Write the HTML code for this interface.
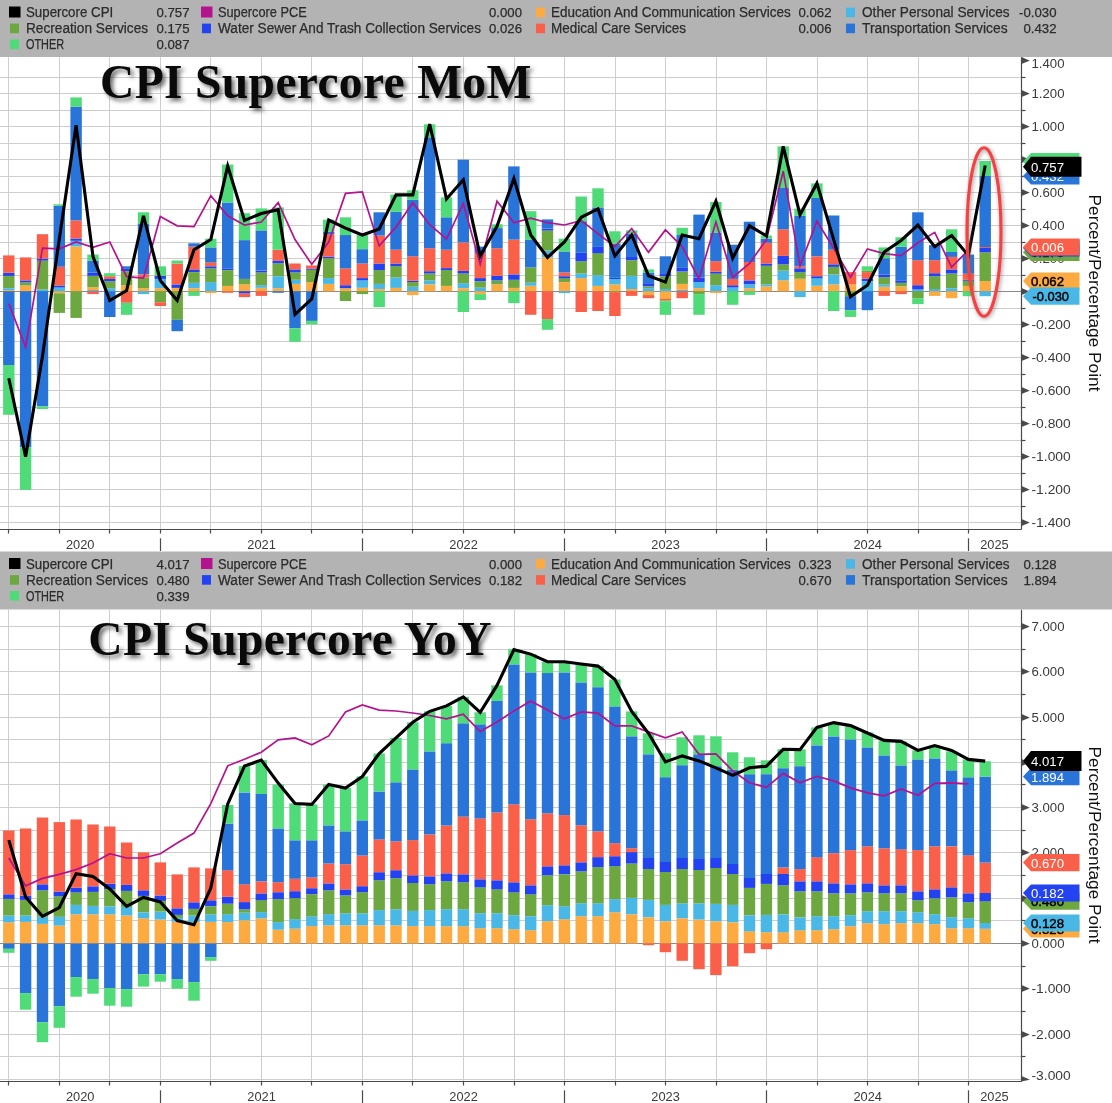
<!DOCTYPE html>
<html><head><meta charset="utf-8"><title>CPI Supercore</title>
<style>
html,body{margin:0;padding:0;background:#fff}
body{width:1112px;height:1103px;position:relative;overflow:hidden;font-family:"Liberation Sans",sans-serif}
svg text{font-family:"Liberation Sans",sans-serif}
.ax{font-size:13.6px;fill:#3A3A3A}
.tg{font-size:13.6px}
.lg{font-size:14px;fill:#2C2C2C;stroke:#2C2C2C;stroke-width:.25px}
.lv{font-size:13.2px;fill:#2C2C2C;stroke:#2C2C2C;stroke-width:.25px}
.yl{font-size:17.3px;fill:#111}
.title{position:absolute;font-family:"Liberation Serif",serif;font-weight:bold;font-size:47.5px;line-height:1;color:#0a0a0a;white-space:nowrap;letter-spacing:.35px;text-shadow:3px 3px 4px rgba(60,60,60,.75);transform-origin:0 0}
</style></head><body>
<svg width="1112" height="1103" viewBox="0 0 1112 1103" style="position:absolute;left:0;top:0">
<rect width="1112" height="1103" fill="#fff"/>
<g>
<line x1="0" y1="522.5" x2="1021.5" y2="522.5" stroke="#CDCDCD" stroke-width="1"/>
<line x1="0" y1="506.5" x2="1021.5" y2="506.5" stroke="#CDCDCD" stroke-width="1"/>
<line x1="0" y1="489.5" x2="1021.5" y2="489.5" stroke="#CDCDCD" stroke-width="1"/>
<line x1="0" y1="473.5" x2="1021.5" y2="473.5" stroke="#CDCDCD" stroke-width="1"/>
<line x1="0" y1="456.5" x2="1021.5" y2="456.5" stroke="#CDCDCD" stroke-width="1"/>
<line x1="0" y1="440.5" x2="1021.5" y2="440.5" stroke="#CDCDCD" stroke-width="1"/>
<line x1="0" y1="423.5" x2="1021.5" y2="423.5" stroke="#CDCDCD" stroke-width="1"/>
<line x1="0" y1="407.5" x2="1021.5" y2="407.5" stroke="#CDCDCD" stroke-width="1"/>
<line x1="0" y1="390.5" x2="1021.5" y2="390.5" stroke="#CDCDCD" stroke-width="1"/>
<line x1="0" y1="374.5" x2="1021.5" y2="374.5" stroke="#CDCDCD" stroke-width="1"/>
<line x1="0" y1="357.5" x2="1021.5" y2="357.5" stroke="#CDCDCD" stroke-width="1"/>
<line x1="0" y1="341.5" x2="1021.5" y2="341.5" stroke="#CDCDCD" stroke-width="1"/>
<line x1="0" y1="324.5" x2="1021.5" y2="324.5" stroke="#CDCDCD" stroke-width="1"/>
<line x1="0" y1="308.5" x2="1021.5" y2="308.5" stroke="#CDCDCD" stroke-width="1"/>
<line x1="0" y1="275.5" x2="1021.5" y2="275.5" stroke="#CDCDCD" stroke-width="1"/>
<line x1="0" y1="258.5" x2="1021.5" y2="258.5" stroke="#CDCDCD" stroke-width="1"/>
<line x1="0" y1="242.5" x2="1021.5" y2="242.5" stroke="#CDCDCD" stroke-width="1"/>
<line x1="0" y1="225.5" x2="1021.5" y2="225.5" stroke="#CDCDCD" stroke-width="1"/>
<line x1="0" y1="209.5" x2="1021.5" y2="209.5" stroke="#CDCDCD" stroke-width="1"/>
<line x1="0" y1="192.5" x2="1021.5" y2="192.5" stroke="#CDCDCD" stroke-width="1"/>
<line x1="0" y1="176.5" x2="1021.5" y2="176.5" stroke="#CDCDCD" stroke-width="1"/>
<line x1="0" y1="159.5" x2="1021.5" y2="159.5" stroke="#CDCDCD" stroke-width="1"/>
<line x1="0" y1="143.5" x2="1021.5" y2="143.5" stroke="#CDCDCD" stroke-width="1"/>
<line x1="0" y1="126.5" x2="1021.5" y2="126.5" stroke="#CDCDCD" stroke-width="1"/>
<line x1="0" y1="110.5" x2="1021.5" y2="110.5" stroke="#CDCDCD" stroke-width="1"/>
<line x1="0" y1="93.5" x2="1021.5" y2="93.5" stroke="#CDCDCD" stroke-width="1"/>
<line x1="0" y1="77.5" x2="1021.5" y2="77.5" stroke="#CDCDCD" stroke-width="1"/>
<line x1="8.5" y1="57.3" x2="8.5" y2="529" stroke="#CDCDCD" stroke-width="1"/>
<line x1="59.5" y1="57.3" x2="59.5" y2="529" stroke="#CDCDCD" stroke-width="1"/>
<line x1="109.5" y1="57.3" x2="109.5" y2="529" stroke="#CDCDCD" stroke-width="1"/>
<line x1="160.5" y1="57.3" x2="160.5" y2="529" stroke="#CDCDCD" stroke-width="1"/>
<line x1="210.5" y1="57.3" x2="210.5" y2="529" stroke="#CDCDCD" stroke-width="1"/>
<line x1="261.5" y1="57.3" x2="261.5" y2="529" stroke="#CDCDCD" stroke-width="1"/>
<line x1="311.5" y1="57.3" x2="311.5" y2="529" stroke="#CDCDCD" stroke-width="1"/>
<line x1="362.5" y1="57.3" x2="362.5" y2="529" stroke="#CDCDCD" stroke-width="1"/>
<line x1="412.5" y1="57.3" x2="412.5" y2="529" stroke="#CDCDCD" stroke-width="1"/>
<line x1="463.5" y1="57.3" x2="463.5" y2="529" stroke="#CDCDCD" stroke-width="1"/>
<line x1="514.5" y1="57.3" x2="514.5" y2="529" stroke="#CDCDCD" stroke-width="1"/>
<line x1="564.5" y1="57.3" x2="564.5" y2="529" stroke="#CDCDCD" stroke-width="1"/>
<line x1="615.5" y1="57.3" x2="615.5" y2="529" stroke="#CDCDCD" stroke-width="1"/>
<line x1="665.5" y1="57.3" x2="665.5" y2="529" stroke="#CDCDCD" stroke-width="1"/>
<line x1="716.5" y1="57.3" x2="716.5" y2="529" stroke="#CDCDCD" stroke-width="1"/>
<line x1="766.5" y1="57.3" x2="766.5" y2="529" stroke="#CDCDCD" stroke-width="1"/>
<line x1="817.5" y1="57.3" x2="817.5" y2="529" stroke="#CDCDCD" stroke-width="1"/>
<line x1="867.5" y1="57.3" x2="867.5" y2="529" stroke="#CDCDCD" stroke-width="1"/>
<line x1="918.5" y1="57.3" x2="918.5" y2="529" stroke="#CDCDCD" stroke-width="1"/>
<line x1="968.5" y1="57.3" x2="968.5" y2="529" stroke="#CDCDCD" stroke-width="1"/>
<line x1="0" y1="291.5" x2="1021.5" y2="291.5" stroke="#8A8A8A" stroke-width="1.2"/>
<rect x="3.1" y="290.0" width="11.4" height="1.3" fill="#FDAA40"/>
<rect x="3.1" y="288.2" width="11.4" height="1.8" fill="#4AB8E6"/>
<rect x="3.1" y="275.8" width="11.4" height="12.3" fill="#6CA83F"/>
<rect x="3.1" y="272.9" width="11.4" height="3.0" fill="#2342F2"/>
<rect x="3.1" y="255.4" width="11.4" height="17.4" fill="#FA6049"/>
<rect x="3.1" y="291.3" width="11.4" height="73.7" fill="#2874D9"/>
<rect x="3.1" y="365.0" width="11.4" height="49.8" fill="#4EDB78"/>
<rect x="19.9" y="285.5" width="11.4" height="5.8" fill="#FDAA40"/>
<rect x="19.9" y="282.4" width="11.4" height="3.1" fill="#6CA83F"/>
<rect x="19.9" y="280.4" width="11.4" height="2.0" fill="#2342F2"/>
<rect x="19.9" y="257.4" width="11.4" height="23.0" fill="#FA6049"/>
<rect x="19.9" y="291.3" width="11.4" height="155.8" fill="#2874D9"/>
<rect x="19.9" y="447.1" width="11.4" height="42.8" fill="#4EDB78"/>
<rect x="36.8" y="289.5" width="11.4" height="1.8" fill="#4AB8E6"/>
<rect x="36.8" y="260.5" width="11.4" height="29.0" fill="#6CA83F"/>
<rect x="36.8" y="258.6" width="11.4" height="2.0" fill="#2342F2"/>
<rect x="36.8" y="234.2" width="11.4" height="24.3" fill="#FA6049"/>
<rect x="36.8" y="291.3" width="11.4" height="115.1" fill="#2874D9"/>
<rect x="36.8" y="406.4" width="11.4" height="2.6" fill="#4EDB78"/>
<rect x="53.6" y="287.5" width="11.4" height="3.8" fill="#4AB8E6"/>
<rect x="53.6" y="285.5" width="11.4" height="2.0" fill="#2342F2"/>
<rect x="53.6" y="266.6" width="11.4" height="18.9" fill="#FA6049"/>
<rect x="53.6" y="205.8" width="11.4" height="60.9" fill="#2874D9"/>
<rect x="53.6" y="204.3" width="11.4" height="1.5" fill="#4EDB78"/>
<rect x="53.6" y="291.3" width="11.4" height="2.0" fill="#FDAA40"/>
<rect x="53.6" y="293.3" width="11.4" height="19.6" fill="#6CA83F"/>
<rect x="70.4" y="246.4" width="11.4" height="44.9" fill="#FDAA40"/>
<rect x="70.4" y="240.8" width="11.4" height="5.6" fill="#4AB8E6"/>
<rect x="70.4" y="238.5" width="11.4" height="2.3" fill="#2342F2"/>
<rect x="70.4" y="220.4" width="11.4" height="18.1" fill="#FA6049"/>
<rect x="70.4" y="106.6" width="11.4" height="113.8" fill="#2874D9"/>
<rect x="70.4" y="97.4" width="11.4" height="9.2" fill="#4EDB78"/>
<rect x="70.4" y="291.3" width="11.4" height="26.6" fill="#6CA83F"/>
<rect x="87.3" y="290.0" width="11.4" height="1.3" fill="#4AB8E6"/>
<rect x="87.3" y="287.2" width="11.4" height="2.8" fill="#FDAA40"/>
<rect x="87.3" y="275.8" width="11.4" height="11.4" fill="#6CA83F"/>
<rect x="87.3" y="272.5" width="11.4" height="3.3" fill="#2342F2"/>
<rect x="87.3" y="260.5" width="11.4" height="12.0" fill="#2874D9"/>
<rect x="87.3" y="254.6" width="11.4" height="5.9" fill="#4EDB78"/>
<rect x="87.3" y="291.3" width="11.4" height="2.8" fill="#FA6049"/>
<rect x="104.1" y="288.2" width="11.4" height="3.1" fill="#4AB8E6"/>
<rect x="104.1" y="281.3" width="11.4" height="6.9" fill="#6CA83F"/>
<rect x="104.1" y="279.0" width="11.4" height="2.3" fill="#2342F2"/>
<rect x="104.1" y="276.2" width="11.4" height="2.8" fill="#FA6049"/>
<rect x="104.1" y="273.2" width="11.4" height="3.0" fill="#4EDB78"/>
<rect x="104.1" y="291.3" width="11.4" height="25.7" fill="#2874D9"/>
<rect x="120.9" y="285.2" width="11.4" height="6.1" fill="#FDAA40"/>
<rect x="120.9" y="271.2" width="11.4" height="14.0" fill="#6CA83F"/>
<rect x="120.9" y="268.9" width="11.4" height="2.3" fill="#2342F2"/>
<rect x="120.9" y="266.3" width="11.4" height="2.6" fill="#2874D9"/>
<rect x="120.9" y="291.3" width="11.4" height="11.5" fill="#FA6049"/>
<rect x="120.9" y="302.8" width="11.4" height="12.0" fill="#4EDB78"/>
<rect x="137.8" y="288.2" width="11.4" height="3.1" fill="#FDAA40"/>
<rect x="137.8" y="277.5" width="11.4" height="10.7" fill="#6CA83F"/>
<rect x="137.8" y="274.4" width="11.4" height="3.1" fill="#FA6049"/>
<rect x="137.8" y="223.5" width="11.4" height="50.8" fill="#2874D9"/>
<rect x="137.8" y="212.3" width="11.4" height="11.2" fill="#4EDB78"/>
<rect x="137.8" y="291.3" width="11.4" height="2.8" fill="#4AB8E6"/>
<rect x="154.6" y="288.2" width="11.4" height="3.1" fill="#FDAA40"/>
<rect x="154.6" y="279.0" width="11.4" height="9.2" fill="#4AB8E6"/>
<rect x="154.6" y="275.8" width="11.4" height="3.1" fill="#2342F2"/>
<rect x="154.6" y="266.3" width="11.4" height="9.5" fill="#4EDB78"/>
<rect x="154.6" y="291.3" width="11.4" height="10.9" fill="#6CA83F"/>
<rect x="154.6" y="302.2" width="11.4" height="3.8" fill="#FA6049"/>
<rect x="171.5" y="287.8" width="11.4" height="3.5" fill="#FDAA40"/>
<rect x="171.5" y="284.4" width="11.4" height="3.5" fill="#2342F2"/>
<rect x="171.5" y="263.5" width="11.4" height="20.9" fill="#FA6049"/>
<rect x="171.5" y="260.5" width="11.4" height="3.0" fill="#4EDB78"/>
<rect x="171.5" y="291.3" width="11.4" height="28.5" fill="#6CA83F"/>
<rect x="171.5" y="319.8" width="11.4" height="11.4" fill="#2874D9"/>
<rect x="188.3" y="288.2" width="11.4" height="3.1" fill="#FDAA40"/>
<rect x="188.3" y="282.7" width="11.4" height="5.4" fill="#4AB8E6"/>
<rect x="188.3" y="272.1" width="11.4" height="10.7" fill="#6CA83F"/>
<rect x="188.3" y="269.4" width="11.4" height="2.6" fill="#2342F2"/>
<rect x="188.3" y="246.6" width="11.4" height="22.9" fill="#FA6049"/>
<rect x="188.3" y="243.3" width="11.4" height="3.3" fill="#2874D9"/>
<rect x="188.3" y="291.3" width="11.4" height="4.6" fill="#4EDB78"/>
<rect x="205.1" y="282.1" width="11.4" height="9.2" fill="#4AB8E6"/>
<rect x="205.1" y="268.3" width="11.4" height="13.8" fill="#6CA83F"/>
<rect x="205.1" y="266.3" width="11.4" height="2.0" fill="#2342F2"/>
<rect x="205.1" y="262.3" width="11.4" height="3.9" fill="#FA6049"/>
<rect x="205.1" y="247.4" width="11.4" height="15.0" fill="#2874D9"/>
<rect x="205.1" y="238.7" width="11.4" height="8.7" fill="#4EDB78"/>
<rect x="205.1" y="291.3" width="11.4" height="1.8" fill="#FDAA40"/>
<rect x="222.0" y="285.9" width="11.4" height="5.4" fill="#FDAA40"/>
<rect x="222.0" y="270.1" width="11.4" height="15.8" fill="#6CA83F"/>
<rect x="222.0" y="268.4" width="11.4" height="1.6" fill="#2342F2"/>
<rect x="222.0" y="202.5" width="11.4" height="66.0" fill="#2874D9"/>
<rect x="222.0" y="164.6" width="11.4" height="37.8" fill="#4EDB78"/>
<rect x="222.0" y="291.3" width="11.4" height="1.5" fill="#FA6049"/>
<rect x="238.8" y="284.4" width="11.4" height="6.9" fill="#FDAA40"/>
<rect x="238.8" y="279.0" width="11.4" height="5.4" fill="#6CA83F"/>
<rect x="238.8" y="240.1" width="11.4" height="38.8" fill="#2874D9"/>
<rect x="238.8" y="213.2" width="11.4" height="27.0" fill="#4EDB78"/>
<rect x="238.8" y="291.3" width="11.4" height="2.3" fill="#2342F2"/>
<rect x="238.8" y="293.6" width="11.4" height="3.5" fill="#FA6049"/>
<rect x="255.6" y="287.8" width="11.4" height="3.5" fill="#FDAA40"/>
<rect x="255.6" y="285.2" width="11.4" height="2.6" fill="#4AB8E6"/>
<rect x="255.6" y="272.4" width="11.4" height="12.8" fill="#6CA83F"/>
<rect x="255.6" y="270.6" width="11.4" height="1.8" fill="#2342F2"/>
<rect x="255.6" y="230.4" width="11.4" height="40.1" fill="#2874D9"/>
<rect x="255.6" y="208.4" width="11.4" height="22.0" fill="#4EDB78"/>
<rect x="255.6" y="291.3" width="11.4" height="4.6" fill="#FA6049"/>
<rect x="272.5" y="288.2" width="11.4" height="3.1" fill="#FDAA40"/>
<rect x="272.5" y="276.2" width="11.4" height="12.0" fill="#4AB8E6"/>
<rect x="272.5" y="263.3" width="11.4" height="12.8" fill="#6CA83F"/>
<rect x="272.5" y="260.5" width="11.4" height="2.8" fill="#2342F2"/>
<rect x="272.5" y="249.7" width="11.4" height="10.9" fill="#FA6049"/>
<rect x="272.5" y="207.4" width="11.4" height="42.3" fill="#4EDB78"/>
<rect x="272.5" y="291.3" width="11.4" height="1.5" fill="#2874D9"/>
<rect x="289.3" y="283.9" width="11.4" height="7.4" fill="#FDAA40"/>
<rect x="289.3" y="279.8" width="11.4" height="4.1" fill="#4AB8E6"/>
<rect x="289.3" y="272.4" width="11.4" height="7.4" fill="#6CA83F"/>
<rect x="289.3" y="269.4" width="11.4" height="3.0" fill="#2342F2"/>
<rect x="289.3" y="263.5" width="11.4" height="5.9" fill="#FA6049"/>
<rect x="289.3" y="291.3" width="11.4" height="37.0" fill="#2874D9"/>
<rect x="289.3" y="328.3" width="11.4" height="13.5" fill="#4EDB78"/>
<rect x="306.1" y="282.1" width="11.4" height="9.2" fill="#FDAA40"/>
<rect x="306.1" y="269.8" width="11.4" height="12.3" fill="#6CA83F"/>
<rect x="306.1" y="268.6" width="11.4" height="1.2" fill="#2342F2"/>
<rect x="306.1" y="265.5" width="11.4" height="3.1" fill="#FA6049"/>
<rect x="306.1" y="291.3" width="11.4" height="29.6" fill="#2874D9"/>
<rect x="306.1" y="320.9" width="11.4" height="3.5" fill="#4EDB78"/>
<rect x="323.0" y="283.9" width="11.4" height="7.4" fill="#FDAA40"/>
<rect x="323.0" y="278.1" width="11.4" height="5.8" fill="#4AB8E6"/>
<rect x="323.0" y="258.2" width="11.4" height="19.9" fill="#6CA83F"/>
<rect x="323.0" y="256.6" width="11.4" height="1.6" fill="#2342F2"/>
<rect x="323.0" y="234.2" width="11.4" height="22.4" fill="#FA6049"/>
<rect x="323.0" y="231.9" width="11.4" height="2.3" fill="#2874D9"/>
<rect x="323.0" y="219.6" width="11.4" height="12.3" fill="#4EDB78"/>
<rect x="339.8" y="288.2" width="11.4" height="3.1" fill="#FDAA40"/>
<rect x="339.8" y="285.2" width="11.4" height="3.0" fill="#2342F2"/>
<rect x="339.8" y="268.4" width="11.4" height="16.8" fill="#FA6049"/>
<rect x="339.8" y="235.0" width="11.4" height="33.4" fill="#2874D9"/>
<rect x="339.8" y="217.3" width="11.4" height="17.8" fill="#4EDB78"/>
<rect x="339.8" y="291.3" width="11.4" height="9.7" fill="#6CA83F"/>
<rect x="356.6" y="287.8" width="11.4" height="3.5" fill="#FDAA40"/>
<rect x="356.6" y="280.4" width="11.4" height="7.4" fill="#4AB8E6"/>
<rect x="356.6" y="278.1" width="11.4" height="2.3" fill="#2342F2"/>
<rect x="356.6" y="263.5" width="11.4" height="14.6" fill="#FA6049"/>
<rect x="356.6" y="249.2" width="11.4" height="14.3" fill="#2874D9"/>
<rect x="356.6" y="235.0" width="11.4" height="14.1" fill="#4EDB78"/>
<rect x="356.6" y="291.3" width="11.4" height="2.8" fill="#6CA83F"/>
<rect x="373.5" y="289.0" width="11.4" height="2.3" fill="#FDAA40"/>
<rect x="373.5" y="283.9" width="11.4" height="5.1" fill="#4AB8E6"/>
<rect x="373.5" y="270.1" width="11.4" height="13.8" fill="#6CA83F"/>
<rect x="373.5" y="263.5" width="11.4" height="6.6" fill="#2342F2"/>
<rect x="373.5" y="235.5" width="11.4" height="28.0" fill="#FA6049"/>
<rect x="373.5" y="212.3" width="11.4" height="23.2" fill="#2874D9"/>
<rect x="373.5" y="291.3" width="11.4" height="15.8" fill="#4EDB78"/>
<rect x="390.3" y="287.8" width="11.4" height="3.5" fill="#FDAA40"/>
<rect x="390.3" y="277.5" width="11.4" height="10.4" fill="#4AB8E6"/>
<rect x="390.3" y="266.1" width="11.4" height="11.4" fill="#6CA83F"/>
<rect x="390.3" y="263.5" width="11.4" height="2.6" fill="#2342F2"/>
<rect x="390.3" y="249.7" width="11.4" height="13.8" fill="#FA6049"/>
<rect x="390.3" y="211.7" width="11.4" height="38.0" fill="#2874D9"/>
<rect x="390.3" y="194.6" width="11.4" height="17.1" fill="#4EDB78"/>
<rect x="407.1" y="286.7" width="11.4" height="4.6" fill="#4AB8E6"/>
<rect x="407.1" y="282.1" width="11.4" height="4.6" fill="#6CA83F"/>
<rect x="407.1" y="280.8" width="11.4" height="1.3" fill="#2342F2"/>
<rect x="407.1" y="256.3" width="11.4" height="24.5" fill="#FA6049"/>
<rect x="407.1" y="199.7" width="11.4" height="56.6" fill="#2874D9"/>
<rect x="407.1" y="190.3" width="11.4" height="9.4" fill="#4EDB78"/>
<rect x="407.1" y="291.3" width="11.4" height="3.8" fill="#FDAA40"/>
<rect x="424.0" y="284.4" width="11.4" height="6.9" fill="#FDAA40"/>
<rect x="424.0" y="280.4" width="11.4" height="3.9" fill="#4AB8E6"/>
<rect x="424.0" y="273.5" width="11.4" height="6.9" fill="#6CA83F"/>
<rect x="424.0" y="271.2" width="11.4" height="2.3" fill="#2342F2"/>
<rect x="424.0" y="248.2" width="11.4" height="23.0" fill="#FA6049"/>
<rect x="424.0" y="137.3" width="11.4" height="110.9" fill="#2874D9"/>
<rect x="424.0" y="124.3" width="11.4" height="13.0" fill="#4EDB78"/>
<rect x="440.8" y="285.9" width="11.4" height="5.4" fill="#FDAA40"/>
<rect x="440.8" y="270.1" width="11.4" height="15.8" fill="#6CA83F"/>
<rect x="440.8" y="268.1" width="11.4" height="2.0" fill="#2342F2"/>
<rect x="440.8" y="249.7" width="11.4" height="18.4" fill="#FA6049"/>
<rect x="440.8" y="217.3" width="11.4" height="32.4" fill="#2874D9"/>
<rect x="440.8" y="197.4" width="11.4" height="19.9" fill="#4EDB78"/>
<rect x="457.6" y="288.2" width="11.4" height="3.1" fill="#FDAA40"/>
<rect x="457.6" y="283.2" width="11.4" height="4.9" fill="#4AB8E6"/>
<rect x="457.6" y="273.5" width="11.4" height="9.7" fill="#6CA83F"/>
<rect x="457.6" y="270.9" width="11.4" height="2.6" fill="#2342F2"/>
<rect x="457.6" y="242.4" width="11.4" height="28.5" fill="#FA6049"/>
<rect x="457.6" y="159.7" width="11.4" height="82.7" fill="#2874D9"/>
<rect x="457.6" y="291.3" width="11.4" height="20.7" fill="#4EDB78"/>
<rect x="474.5" y="287.5" width="11.4" height="3.8" fill="#4AB8E6"/>
<rect x="474.5" y="281.3" width="11.4" height="6.3" fill="#6CA83F"/>
<rect x="474.5" y="278.1" width="11.4" height="3.1" fill="#2342F2"/>
<rect x="474.5" y="252.8" width="11.4" height="25.3" fill="#FA6049"/>
<rect x="474.5" y="246.6" width="11.4" height="6.3" fill="#2874D9"/>
<rect x="474.5" y="291.3" width="11.4" height="2.8" fill="#FDAA40"/>
<rect x="474.5" y="294.1" width="11.4" height="5.9" fill="#4EDB78"/>
<rect x="491.3" y="284.4" width="11.4" height="6.9" fill="#FDAA40"/>
<rect x="491.3" y="280.4" width="11.4" height="3.9" fill="#6CA83F"/>
<rect x="491.3" y="275.8" width="11.4" height="4.6" fill="#2342F2"/>
<rect x="491.3" y="248.2" width="11.4" height="27.6" fill="#FA6049"/>
<rect x="491.3" y="228.1" width="11.4" height="20.1" fill="#2874D9"/>
<rect x="491.3" y="224.3" width="11.4" height="3.8" fill="#4EDB78"/>
<rect x="508.2" y="287.8" width="11.4" height="3.5" fill="#FDAA40"/>
<rect x="508.2" y="279.8" width="11.4" height="8.1" fill="#6CA83F"/>
<rect x="508.2" y="274.4" width="11.4" height="5.4" fill="#2342F2"/>
<rect x="508.2" y="239.6" width="11.4" height="34.7" fill="#FA6049"/>
<rect x="508.2" y="166.4" width="11.4" height="73.2" fill="#2874D9"/>
<rect x="508.2" y="291.3" width="11.4" height="11.8" fill="#4EDB78"/>
<rect x="525.0" y="285.9" width="11.4" height="5.4" fill="#FDAA40"/>
<rect x="525.0" y="282.7" width="11.4" height="3.1" fill="#4AB8E6"/>
<rect x="525.0" y="267.4" width="11.4" height="15.3" fill="#6CA83F"/>
<rect x="525.0" y="239.6" width="11.4" height="27.8" fill="#2874D9"/>
<rect x="525.0" y="211.2" width="11.4" height="28.5" fill="#4EDB78"/>
<rect x="525.0" y="291.3" width="11.4" height="23.5" fill="#FA6049"/>
<rect x="541.8" y="257.4" width="11.4" height="33.9" fill="#FDAA40"/>
<rect x="541.8" y="250.5" width="11.4" height="6.9" fill="#4AB8E6"/>
<rect x="541.8" y="230.4" width="11.4" height="20.1" fill="#6CA83F"/>
<rect x="541.8" y="228.5" width="11.4" height="2.0" fill="#2342F2"/>
<rect x="541.8" y="219.4" width="11.4" height="9.0" fill="#2874D9"/>
<rect x="541.8" y="291.3" width="11.4" height="27.8" fill="#FA6049"/>
<rect x="541.8" y="319.1" width="11.4" height="10.7" fill="#4EDB78"/>
<rect x="558.7" y="282.1" width="11.4" height="9.2" fill="#FDAA40"/>
<rect x="558.7" y="278.1" width="11.4" height="3.9" fill="#6CA83F"/>
<rect x="558.7" y="276.2" width="11.4" height="2.0" fill="#2342F2"/>
<rect x="558.7" y="272.4" width="11.4" height="3.8" fill="#FA6049"/>
<rect x="558.7" y="251.5" width="11.4" height="20.9" fill="#2874D9"/>
<rect x="558.7" y="238.7" width="11.4" height="12.8" fill="#4EDB78"/>
<rect x="558.7" y="291.3" width="11.4" height="1.8" fill="#4AB8E6"/>
<rect x="575.5" y="278.1" width="11.4" height="13.2" fill="#FDAA40"/>
<rect x="575.5" y="273.5" width="11.4" height="4.6" fill="#4AB8E6"/>
<rect x="575.5" y="261.2" width="11.4" height="12.3" fill="#6CA83F"/>
<rect x="575.5" y="252.8" width="11.4" height="8.4" fill="#2342F2"/>
<rect x="575.5" y="221.2" width="11.4" height="31.6" fill="#2874D9"/>
<rect x="575.5" y="196.5" width="11.4" height="24.7" fill="#4EDB78"/>
<rect x="575.5" y="291.3" width="11.4" height="20.7" fill="#FA6049"/>
<rect x="592.3" y="285.9" width="11.4" height="5.4" fill="#FDAA40"/>
<rect x="592.3" y="275.2" width="11.4" height="10.7" fill="#4AB8E6"/>
<rect x="592.3" y="253.1" width="11.4" height="22.0" fill="#6CA83F"/>
<rect x="592.3" y="246.9" width="11.4" height="6.3" fill="#2342F2"/>
<rect x="592.3" y="207.4" width="11.4" height="39.5" fill="#2874D9"/>
<rect x="592.3" y="188.3" width="11.4" height="19.1" fill="#4EDB78"/>
<rect x="592.3" y="291.3" width="11.4" height="19.7" fill="#FA6049"/>
<rect x="609.2" y="284.4" width="11.4" height="6.9" fill="#FDAA40"/>
<rect x="609.2" y="279.0" width="11.4" height="5.4" fill="#4AB8E6"/>
<rect x="609.2" y="277.8" width="11.4" height="1.2" fill="#2342F2"/>
<rect x="609.2" y="243.6" width="11.4" height="34.2" fill="#2874D9"/>
<rect x="609.2" y="231.3" width="11.4" height="12.3" fill="#4EDB78"/>
<rect x="609.2" y="291.3" width="11.4" height="0.8" fill="#6CA83F"/>
<rect x="609.2" y="292.1" width="11.4" height="23.9" fill="#FA6049"/>
<rect x="626.0" y="289.0" width="11.4" height="2.3" fill="#FDAA40"/>
<rect x="626.0" y="275.8" width="11.4" height="13.2" fill="#4AB8E6"/>
<rect x="626.0" y="260.2" width="11.4" height="15.6" fill="#6CA83F"/>
<rect x="626.0" y="256.9" width="11.4" height="3.3" fill="#2342F2"/>
<rect x="626.0" y="233.6" width="11.4" height="23.4" fill="#2874D9"/>
<rect x="626.0" y="230.4" width="11.4" height="3.1" fill="#4EDB78"/>
<rect x="626.0" y="291.3" width="11.4" height="4.6" fill="#FA6049"/>
<rect x="642.8" y="288.2" width="11.4" height="3.1" fill="#4AB8E6"/>
<rect x="642.8" y="286.4" width="11.4" height="1.8" fill="#6CA83F"/>
<rect x="642.8" y="283.2" width="11.4" height="3.1" fill="#2342F2"/>
<rect x="642.8" y="272.5" width="11.4" height="10.7" fill="#2874D9"/>
<rect x="642.8" y="269.4" width="11.4" height="3.1" fill="#4EDB78"/>
<rect x="642.8" y="291.3" width="11.4" height="3.8" fill="#FDAA40"/>
<rect x="642.8" y="295.1" width="11.4" height="3.1" fill="#FA6049"/>
<rect x="659.7" y="289.0" width="11.4" height="2.3" fill="#4AB8E6"/>
<rect x="659.7" y="276.2" width="11.4" height="12.8" fill="#6CA83F"/>
<rect x="659.7" y="273.2" width="11.4" height="3.0" fill="#2342F2"/>
<rect x="659.7" y="256.3" width="11.4" height="16.9" fill="#2874D9"/>
<rect x="659.7" y="291.3" width="11.4" height="7.7" fill="#FDAA40"/>
<rect x="659.7" y="299.0" width="11.4" height="1.5" fill="#FA6049"/>
<rect x="659.7" y="300.5" width="11.4" height="1.0" fill="#6CA83F"/>
<rect x="659.7" y="301.5" width="11.4" height="13.3" fill="#4EDB78"/>
<rect x="676.5" y="289.8" width="11.4" height="1.5" fill="#4AB8E6"/>
<rect x="676.5" y="283.9" width="11.4" height="5.9" fill="#FDAA40"/>
<rect x="676.5" y="271.6" width="11.4" height="12.3" fill="#6CA83F"/>
<rect x="676.5" y="267.9" width="11.4" height="3.6" fill="#2342F2"/>
<rect x="676.5" y="235.0" width="11.4" height="32.9" fill="#2874D9"/>
<rect x="676.5" y="227.8" width="11.4" height="7.2" fill="#4EDB78"/>
<rect x="676.5" y="291.3" width="11.4" height="6.9" fill="#FA6049"/>
<rect x="693.3" y="288.2" width="11.4" height="3.1" fill="#FDAA40"/>
<rect x="693.3" y="282.1" width="11.4" height="6.1" fill="#4AB8E6"/>
<rect x="693.3" y="277.5" width="11.4" height="4.6" fill="#2342F2"/>
<rect x="693.3" y="214.6" width="11.4" height="62.8" fill="#2874D9"/>
<rect x="693.3" y="291.3" width="11.4" height="2.8" fill="#6CA83F"/>
<rect x="693.3" y="294.1" width="11.4" height="20.7" fill="#4EDB78"/>
<rect x="710.2" y="285.2" width="11.4" height="6.1" fill="#4AB8E6"/>
<rect x="710.2" y="273.5" width="11.4" height="11.7" fill="#6CA83F"/>
<rect x="710.2" y="271.6" width="11.4" height="2.0" fill="#2342F2"/>
<rect x="710.2" y="261.2" width="11.4" height="10.4" fill="#FA6049"/>
<rect x="710.2" y="232.7" width="11.4" height="28.5" fill="#2874D9"/>
<rect x="710.2" y="202.0" width="11.4" height="30.8" fill="#4EDB78"/>
<rect x="710.2" y="291.3" width="11.4" height="1.8" fill="#FDAA40"/>
<rect x="727.0" y="287.5" width="11.4" height="3.8" fill="#4AB8E6"/>
<rect x="727.0" y="285.2" width="11.4" height="2.3" fill="#2342F2"/>
<rect x="727.0" y="279.0" width="11.4" height="6.3" fill="#FA6049"/>
<rect x="727.0" y="244.7" width="11.4" height="34.2" fill="#2874D9"/>
<rect x="727.0" y="291.3" width="11.4" height="13.5" fill="#4EDB78"/>
<rect x="743.8" y="288.2" width="11.4" height="3.1" fill="#FDAA40"/>
<rect x="743.8" y="284.4" width="11.4" height="3.8" fill="#4AB8E6"/>
<rect x="743.8" y="280.4" width="11.4" height="3.9" fill="#2342F2"/>
<rect x="743.8" y="262.0" width="11.4" height="18.4" fill="#FA6049"/>
<rect x="743.8" y="221.7" width="11.4" height="40.3" fill="#2874D9"/>
<rect x="743.8" y="291.3" width="11.4" height="3.6" fill="#4EDB78"/>
<rect x="760.7" y="286.4" width="11.4" height="4.9" fill="#FDAA40"/>
<rect x="760.7" y="284.4" width="11.4" height="2.0" fill="#4AB8E6"/>
<rect x="760.7" y="265.8" width="11.4" height="18.6" fill="#6CA83F"/>
<rect x="760.7" y="263.5" width="11.4" height="2.3" fill="#2342F2"/>
<rect x="760.7" y="242.8" width="11.4" height="20.7" fill="#FA6049"/>
<rect x="760.7" y="238.7" width="11.4" height="4.1" fill="#2874D9"/>
<rect x="760.7" y="235.5" width="11.4" height="3.1" fill="#4EDB78"/>
<rect x="777.5" y="280.3" width="11.4" height="11.0" fill="#FDAA40"/>
<rect x="777.5" y="270.6" width="11.4" height="9.7" fill="#4AB8E6"/>
<rect x="777.5" y="264.3" width="11.4" height="6.3" fill="#6CA83F"/>
<rect x="777.5" y="255.9" width="11.4" height="8.4" fill="#2342F2"/>
<rect x="777.5" y="229.3" width="11.4" height="26.6" fill="#FA6049"/>
<rect x="777.5" y="188.0" width="11.4" height="41.3" fill="#2874D9"/>
<rect x="777.5" y="146.4" width="11.4" height="41.6" fill="#4EDB78"/>
<rect x="794.3" y="278.6" width="11.4" height="12.7" fill="#FDAA40"/>
<rect x="794.3" y="272.1" width="11.4" height="6.6" fill="#6CA83F"/>
<rect x="794.3" y="268.3" width="11.4" height="3.8" fill="#2342F2"/>
<rect x="794.3" y="266.3" width="11.4" height="2.0" fill="#FA6049"/>
<rect x="794.3" y="215.8" width="11.4" height="50.5" fill="#2874D9"/>
<rect x="794.3" y="208.6" width="11.4" height="7.2" fill="#4EDB78"/>
<rect x="794.3" y="291.3" width="11.4" height="5.8" fill="#4AB8E6"/>
<rect x="811.2" y="285.9" width="11.4" height="5.4" fill="#FDAA40"/>
<rect x="811.2" y="278.1" width="11.4" height="7.7" fill="#4AB8E6"/>
<rect x="811.2" y="276.2" width="11.4" height="2.0" fill="#2342F2"/>
<rect x="811.2" y="256.3" width="11.4" height="19.9" fill="#FA6049"/>
<rect x="811.2" y="198.0" width="11.4" height="58.2" fill="#2874D9"/>
<rect x="811.2" y="183.4" width="11.4" height="14.6" fill="#4EDB78"/>
<rect x="828.0" y="284.4" width="11.4" height="6.9" fill="#FDAA40"/>
<rect x="828.0" y="274.4" width="11.4" height="10.0" fill="#4AB8E6"/>
<rect x="828.0" y="267.0" width="11.4" height="7.4" fill="#6CA83F"/>
<rect x="828.0" y="264.3" width="11.4" height="2.6" fill="#2342F2"/>
<rect x="828.0" y="249.7" width="11.4" height="14.6" fill="#FA6049"/>
<rect x="828.0" y="215.5" width="11.4" height="34.2" fill="#2874D9"/>
<rect x="828.0" y="291.3" width="11.4" height="19.7" fill="#4EDB78"/>
<rect x="844.8" y="284.4" width="11.4" height="6.9" fill="#FDAA40"/>
<rect x="844.8" y="272.1" width="11.4" height="12.3" fill="#FA6049"/>
<rect x="844.8" y="291.3" width="11.4" height="4.9" fill="#6CA83F"/>
<rect x="844.8" y="296.2" width="11.4" height="14.0" fill="#2874D9"/>
<rect x="844.8" y="310.2" width="11.4" height="6.7" fill="#4EDB78"/>
<rect x="861.7" y="281.3" width="11.4" height="10.0" fill="#4AB8E6"/>
<rect x="861.7" y="278.6" width="11.4" height="2.6" fill="#2342F2"/>
<rect x="861.7" y="272.1" width="11.4" height="6.6" fill="#FA6049"/>
<rect x="861.7" y="270.6" width="11.4" height="1.5" fill="#6CA83F"/>
<rect x="861.7" y="266.3" width="11.4" height="4.3" fill="#4EDB78"/>
<rect x="861.7" y="291.3" width="11.4" height="18.9" fill="#2874D9"/>
<rect x="878.5" y="286.7" width="11.4" height="4.6" fill="#FDAA40"/>
<rect x="878.5" y="284.4" width="11.4" height="2.3" fill="#4AB8E6"/>
<rect x="878.5" y="277.2" width="11.4" height="7.2" fill="#6CA83F"/>
<rect x="878.5" y="274.4" width="11.4" height="2.8" fill="#2342F2"/>
<rect x="878.5" y="258.2" width="11.4" height="16.1" fill="#2874D9"/>
<rect x="878.5" y="247.4" width="11.4" height="10.9" fill="#4EDB78"/>
<rect x="878.5" y="291.3" width="11.4" height="4.6" fill="#FA6049"/>
<rect x="895.4" y="286.4" width="11.4" height="4.9" fill="#FDAA40"/>
<rect x="895.4" y="282.7" width="11.4" height="3.6" fill="#6CA83F"/>
<rect x="895.4" y="280.3" width="11.4" height="2.5" fill="#2342F2"/>
<rect x="895.4" y="246.9" width="11.4" height="33.4" fill="#2874D9"/>
<rect x="895.4" y="237.3" width="11.4" height="9.5" fill="#4EDB78"/>
<rect x="895.4" y="291.3" width="11.4" height="2.8" fill="#FA6049"/>
<rect x="912.2" y="289.5" width="11.4" height="1.8" fill="#4AB8E6"/>
<rect x="912.2" y="285.2" width="11.4" height="4.3" fill="#2342F2"/>
<rect x="912.2" y="260.2" width="11.4" height="25.0" fill="#FA6049"/>
<rect x="912.2" y="212.3" width="11.4" height="47.9" fill="#2874D9"/>
<rect x="912.2" y="291.3" width="11.4" height="6.9" fill="#6CA83F"/>
<rect x="912.2" y="298.2" width="11.4" height="5.9" fill="#4EDB78"/>
<rect x="929.0" y="289.0" width="11.4" height="2.3" fill="#4AB8E6"/>
<rect x="929.0" y="276.2" width="11.4" height="12.8" fill="#6CA83F"/>
<rect x="929.0" y="273.2" width="11.4" height="3.0" fill="#2342F2"/>
<rect x="929.0" y="260.2" width="11.4" height="13.0" fill="#FA6049"/>
<rect x="929.0" y="245.1" width="11.4" height="15.1" fill="#2874D9"/>
<rect x="929.0" y="291.3" width="11.4" height="4.6" fill="#FDAA40"/>
<rect x="945.9" y="288.2" width="11.4" height="3.1" fill="#4AB8E6"/>
<rect x="945.9" y="273.5" width="11.4" height="14.6" fill="#6CA83F"/>
<rect x="945.9" y="269.4" width="11.4" height="4.1" fill="#2342F2"/>
<rect x="945.9" y="256.9" width="11.4" height="12.5" fill="#FA6049"/>
<rect x="945.9" y="252.0" width="11.4" height="4.9" fill="#2874D9"/>
<rect x="945.9" y="229.3" width="11.4" height="22.7" fill="#4EDB78"/>
<rect x="945.9" y="291.3" width="11.4" height="6.9" fill="#FDAA40"/>
<rect x="962.7" y="285.9" width="11.4" height="5.4" fill="#FDAA40"/>
<rect x="962.7" y="280.8" width="11.4" height="5.1" fill="#6CA83F"/>
<rect x="962.7" y="279.8" width="11.4" height="1.0" fill="#2342F2"/>
<rect x="962.7" y="273.7" width="11.4" height="6.1" fill="#FA6049"/>
<rect x="962.7" y="254.6" width="11.4" height="19.1" fill="#2874D9"/>
<rect x="962.7" y="291.3" width="11.4" height="4.9" fill="#4EDB78"/>
<rect x="979.5" y="281.1" width="11.4" height="10.2" fill="#FDAA40"/>
<rect x="979.5" y="252.3" width="11.4" height="28.8" fill="#6CA83F"/>
<rect x="979.5" y="248.0" width="11.4" height="4.3" fill="#2342F2"/>
<rect x="979.5" y="247.0" width="11.4" height="1.0" fill="#FA6049"/>
<rect x="979.5" y="176.0" width="11.4" height="71.1" fill="#2874D9"/>
<rect x="979.5" y="160.9" width="11.4" height="15.1" fill="#4EDB78"/>
<rect x="979.5" y="291.3" width="11.4" height="4.9" fill="#4AB8E6"/>
<polyline points="8.8,303.6 25.6,347.1 42.5,248.2 59.3,248.9 76.1,242.0 93.0,247.4 109.8,242.0 126.6,276.7 143.5,278.1 160.3,216.6 177.2,225.8 194.0,226.7 210.8,195.7 227.7,215.8 244.5,225.0 261.3,222.0 278.2,202.6 295.0,239.6 311.8,264.3 328.7,242.0 345.5,193.4 362.3,191.9 379.2,245.9 396.0,227.1 412.8,202.8 429.7,224.7 446.5,239.0 463.3,203.5 480.2,264.3 497.0,201.2 513.9,222.7 530.7,218.1 547.5,222.7 564.4,225.0 581.2,220.7 598.0,233.6 614.9,246.6 631.7,228.5 648.5,252.3 665.4,229.9 682.2,246.6 699.0,279.0 715.9,222.0 732.7,277.5 749.5,263.5 766.4,239.6 783.2,171.2 800.0,265.8 816.9,221.2 833.7,248.2 850.5,277.2 867.4,248.9 884.2,253.6 901.1,255.6 917.9,242.8 934.7,232.4 951.6,267.0 968.4,250.2" fill="none" stroke="#B4138E" stroke-width="1.7" stroke-linejoin="miter"/>
<polyline points="8.8,378.2 25.6,456.8 42.5,356.1 59.3,239.0 76.1,125.2 93.0,256.6 109.8,300.5 126.6,290.5 143.5,215.8 160.3,280.4 177.2,300.5 194.0,249.7 210.8,239.6 227.7,166.0 244.5,220.4 261.3,213.5 278.2,209.7 295.0,314.3 311.8,299.0 328.7,220.1 345.5,228.1 362.3,235.0 379.2,229.0 396.0,194.9 412.8,194.9 429.7,124.0 446.5,198.9 463.3,179.8 480.2,255.9 497.0,226.3 513.9,178.6 530.7,235.0 547.5,257.4 564.4,242.0 581.2,217.3 598.0,208.9 614.9,255.9 631.7,235.0 648.5,275.7 665.4,282.1 682.2,235.0 699.0,238.7 715.9,201.2 732.7,258.2 749.5,225.8 766.4,235.9 783.2,146.4 800.0,214.8 816.9,183.4 833.7,239.6 850.5,296.7 867.4,285.2 884.2,252.0 901.1,240.5 917.9,225.0 934.7,246.6 951.6,235.5 968.4,255.4 985.2,165.5" fill="none" stroke="#000" stroke-width="3.1" stroke-linejoin="miter" stroke-linecap="butt"/>
<line x1="1021.5" y1="57.3" x2="1021.5" y2="529.5" stroke="#4A4A4A" stroke-width="1.2"/>
<line x1="0" y1="529.5" x2="1021.5" y2="529.5" stroke="#4A4A4A" stroke-width="1.2"/>
<line x1="8.5" y1="529" x2="8.5" y2="533.5" stroke="#4A4A4A" stroke-width="1.2"/>
<line x1="59.5" y1="529" x2="59.5" y2="533.5" stroke="#4A4A4A" stroke-width="1.2"/>
<line x1="109.5" y1="529" x2="109.5" y2="533.5" stroke="#4A4A4A" stroke-width="1.2"/>
<line x1="160.5" y1="538.3" x2="160.5" y2="551" stroke="#4A4A4A" stroke-width="1.2"/>
<line x1="160.5" y1="529" x2="160.5" y2="533.5" stroke="#4A4A4A" stroke-width="1.2"/>
<line x1="210.5" y1="529" x2="210.5" y2="533.5" stroke="#4A4A4A" stroke-width="1.2"/>
<line x1="261.5" y1="529" x2="261.5" y2="533.5" stroke="#4A4A4A" stroke-width="1.2"/>
<line x1="311.5" y1="529" x2="311.5" y2="533.5" stroke="#4A4A4A" stroke-width="1.2"/>
<line x1="362.5" y1="538.3" x2="362.5" y2="551" stroke="#4A4A4A" stroke-width="1.2"/>
<line x1="362.5" y1="529" x2="362.5" y2="533.5" stroke="#4A4A4A" stroke-width="1.2"/>
<line x1="412.5" y1="529" x2="412.5" y2="533.5" stroke="#4A4A4A" stroke-width="1.2"/>
<line x1="463.5" y1="529" x2="463.5" y2="533.5" stroke="#4A4A4A" stroke-width="1.2"/>
<line x1="514.5" y1="529" x2="514.5" y2="533.5" stroke="#4A4A4A" stroke-width="1.2"/>
<line x1="564.5" y1="538.3" x2="564.5" y2="551" stroke="#4A4A4A" stroke-width="1.2"/>
<line x1="564.5" y1="529" x2="564.5" y2="533.5" stroke="#4A4A4A" stroke-width="1.2"/>
<line x1="615.5" y1="529" x2="615.5" y2="533.5" stroke="#4A4A4A" stroke-width="1.2"/>
<line x1="665.5" y1="529" x2="665.5" y2="533.5" stroke="#4A4A4A" stroke-width="1.2"/>
<line x1="716.5" y1="529" x2="716.5" y2="533.5" stroke="#4A4A4A" stroke-width="1.2"/>
<line x1="766.5" y1="538.3" x2="766.5" y2="551" stroke="#4A4A4A" stroke-width="1.2"/>
<line x1="766.5" y1="529" x2="766.5" y2="533.5" stroke="#4A4A4A" stroke-width="1.2"/>
<line x1="817.5" y1="529" x2="817.5" y2="533.5" stroke="#4A4A4A" stroke-width="1.2"/>
<line x1="867.5" y1="529" x2="867.5" y2="533.5" stroke="#4A4A4A" stroke-width="1.2"/>
<line x1="918.5" y1="529" x2="918.5" y2="533.5" stroke="#4A4A4A" stroke-width="1.2"/>
<line x1="968.5" y1="538.3" x2="968.5" y2="551" stroke="#4A4A4A" stroke-width="1.2"/>
<line x1="968.5" y1="529" x2="968.5" y2="533.5" stroke="#4A4A4A" stroke-width="1.2"/>
<text x="80.2" y="549.3" text-anchor="middle" class="ax" textLength="28.5" lengthAdjust="spacingAndGlyphs">2020</text>
<text x="261.6" y="549.3" text-anchor="middle" class="ax" textLength="28.5" lengthAdjust="spacingAndGlyphs">2021</text>
<text x="463.6" y="549.3" text-anchor="middle" class="ax" textLength="28.5" lengthAdjust="spacingAndGlyphs">2022</text>
<text x="665.6" y="549.3" text-anchor="middle" class="ax" textLength="28.5" lengthAdjust="spacingAndGlyphs">2023</text>
<text x="867.7" y="549.3" text-anchor="middle" class="ax" textLength="28.5" lengthAdjust="spacingAndGlyphs">2024</text>
<text x="994.5" y="549.3" text-anchor="middle" class="ax" textLength="28.5" lengthAdjust="spacingAndGlyphs">2025</text>
<path d="M1021.5 519.0 L1029.5 522.5 L1029.5 522.8 L1021.5 526.0 Z" fill="#4A4A4A"/>
<text x="1031.5" y="527.4" class="ax" textLength="39.2" lengthAdjust="spacingAndGlyphs">-1.400</text>
<line x1="1021.5" y1="506.5" x2="1025.5" y2="506.5" stroke="#4A4A4A" stroke-width="1.2"/>
<path d="M1021.5 486.0 L1029.5 489.5 L1029.5 489.8 L1021.5 493.0 Z" fill="#4A4A4A"/>
<text x="1031.5" y="494.4" class="ax" textLength="39.2" lengthAdjust="spacingAndGlyphs">-1.200</text>
<line x1="1021.5" y1="473.5" x2="1025.5" y2="473.5" stroke="#4A4A4A" stroke-width="1.2"/>
<path d="M1021.5 453.0 L1029.5 456.5 L1029.5 456.8 L1021.5 460.0 Z" fill="#4A4A4A"/>
<text x="1031.5" y="461.4" class="ax" textLength="39.2" lengthAdjust="spacingAndGlyphs">-1.000</text>
<line x1="1021.5" y1="440.5" x2="1025.5" y2="440.5" stroke="#4A4A4A" stroke-width="1.2"/>
<path d="M1021.5 420.0 L1029.5 423.5 L1029.5 423.8 L1021.5 427.0 Z" fill="#4A4A4A"/>
<text x="1031.5" y="428.4" class="ax" textLength="39.2" lengthAdjust="spacingAndGlyphs">-0.800</text>
<line x1="1021.5" y1="407.5" x2="1025.5" y2="407.5" stroke="#4A4A4A" stroke-width="1.2"/>
<path d="M1021.5 387.0 L1029.5 390.5 L1029.5 390.8 L1021.5 394.0 Z" fill="#4A4A4A"/>
<text x="1031.5" y="395.4" class="ax" textLength="39.2" lengthAdjust="spacingAndGlyphs">-0.600</text>
<line x1="1021.5" y1="374.5" x2="1025.5" y2="374.5" stroke="#4A4A4A" stroke-width="1.2"/>
<path d="M1021.5 354.0 L1029.5 357.5 L1029.5 357.8 L1021.5 361.0 Z" fill="#4A4A4A"/>
<text x="1031.5" y="362.4" class="ax" textLength="39.2" lengthAdjust="spacingAndGlyphs">-0.400</text>
<line x1="1021.5" y1="341.5" x2="1025.5" y2="341.5" stroke="#4A4A4A" stroke-width="1.2"/>
<path d="M1021.5 321.0 L1029.5 324.5 L1029.5 324.8 L1021.5 328.0 Z" fill="#4A4A4A"/>
<text x="1031.5" y="329.4" class="ax" textLength="39.2" lengthAdjust="spacingAndGlyphs">-0.200</text>
<line x1="1021.5" y1="308.5" x2="1025.5" y2="308.5" stroke="#4A4A4A" stroke-width="1.2"/>
<path d="M1021.5 288.0 L1029.5 291.5 L1029.5 291.8 L1021.5 295.0 Z" fill="#4A4A4A"/>
<text x="1031.5" y="296.4" class="ax" textLength="33" lengthAdjust="spacingAndGlyphs">0.000</text>
<line x1="1021.5" y1="275.5" x2="1025.5" y2="275.5" stroke="#4A4A4A" stroke-width="1.2"/>
<path d="M1021.5 255.0 L1029.5 258.5 L1029.5 258.8 L1021.5 262.0 Z" fill="#4A4A4A"/>
<text x="1031.5" y="263.4" class="ax" textLength="33" lengthAdjust="spacingAndGlyphs">0.200</text>
<line x1="1021.5" y1="242.5" x2="1025.5" y2="242.5" stroke="#4A4A4A" stroke-width="1.2"/>
<path d="M1021.5 222.0 L1029.5 225.5 L1029.5 225.8 L1021.5 229.0 Z" fill="#4A4A4A"/>
<text x="1031.5" y="230.4" class="ax" textLength="33" lengthAdjust="spacingAndGlyphs">0.400</text>
<line x1="1021.5" y1="209.5" x2="1025.5" y2="209.5" stroke="#4A4A4A" stroke-width="1.2"/>
<path d="M1021.5 189.0 L1029.5 192.5 L1029.5 192.8 L1021.5 196.0 Z" fill="#4A4A4A"/>
<text x="1031.5" y="197.4" class="ax" textLength="33" lengthAdjust="spacingAndGlyphs">0.600</text>
<line x1="1021.5" y1="176.5" x2="1025.5" y2="176.5" stroke="#4A4A4A" stroke-width="1.2"/>
<path d="M1021.5 156.0 L1029.5 159.5 L1029.5 159.8 L1021.5 163.0 Z" fill="#4A4A4A"/>
<text x="1031.5" y="164.4" class="ax" textLength="33" lengthAdjust="spacingAndGlyphs">0.800</text>
<line x1="1021.5" y1="143.5" x2="1025.5" y2="143.5" stroke="#4A4A4A" stroke-width="1.2"/>
<path d="M1021.5 123.0 L1029.5 126.5 L1029.5 126.8 L1021.5 130.0 Z" fill="#4A4A4A"/>
<text x="1031.5" y="131.4" class="ax" textLength="33" lengthAdjust="spacingAndGlyphs">1.000</text>
<line x1="1021.5" y1="110.5" x2="1025.5" y2="110.5" stroke="#4A4A4A" stroke-width="1.2"/>
<path d="M1021.5 90.0 L1029.5 93.5 L1029.5 93.8 L1021.5 97.0 Z" fill="#4A4A4A"/>
<text x="1031.5" y="98.4" class="ax" textLength="33" lengthAdjust="spacingAndGlyphs">1.200</text>
<line x1="1021.5" y1="77.5" x2="1025.5" y2="77.5" stroke="#4A4A4A" stroke-width="1.2"/>
<path d="M1021.5 57.0 L1029.5 60.5 L1029.5 60.8 L1021.5 64.0 Z" fill="#4A4A4A"/>
<text x="1031.5" y="68.0" class="ax" textLength="33" lengthAdjust="spacingAndGlyphs">1.400</text>
<path d="M1023.0 281.1 L1031.0 272.5 L1079.5 272.5 L1079.5 289.7 L1031.0 289.7 Z" fill="#FDAA40"/>
<text x="1031.0" y="286.0" class="tg" fill="#000" stroke="#000" stroke-width=".45" textLength="33" lengthAdjust="spacingAndGlyphs">0.062</text>
<path d="M1023.0 296.2 L1031.0 287.6 L1079.5 287.6 L1079.5 304.8 L1031.0 304.8 Z" fill="#4AB8E6"/>
<text x="1032.5" y="301.1" class="tg" fill="#000" stroke="#000" stroke-width=".45" textLength="36.5" lengthAdjust="spacingAndGlyphs">-0.030</text>
<path d="M1023.0 252.3 L1031.0 243.7 L1079.5 243.7 L1079.5 260.9 L1031.0 260.9 Z" fill="#6CA83F"/>
<text x="1031.0" y="257.2" class="tg" fill="#000" stroke="#000" stroke-width=".45" textLength="33" lengthAdjust="spacingAndGlyphs">0.175</text>
<path d="M1023.0 248.0 L1031.0 239.4 L1079.5 239.4 L1079.5 256.6 L1031.0 256.6 Z" fill="#2342F2"/>
<text x="1031.0" y="252.9" class="tg" fill="#fff" textLength="33" lengthAdjust="spacingAndGlyphs">0.026</text>
<path d="M1023.0 247.0 L1031.0 238.4 L1079.5 238.4 L1079.5 255.6 L1031.0 255.6 Z" fill="#FA6049"/>
<text x="1031.0" y="251.9" class="tg" fill="#fff" textLength="33" lengthAdjust="spacingAndGlyphs">0.006</text>
<path d="M1023.0 176.0 L1031.0 167.4 L1079.5 167.4 L1079.5 184.6 L1031.0 184.6 Z" fill="#2874D9"/>
<text x="1031.0" y="180.9" class="tg" fill="#fff" textLength="33" lengthAdjust="spacingAndGlyphs">0.432</text>
<path d="M1023.0 161.7 L1031.0 153.1 L1079.5 153.1 L1079.5 170.3 L1031.0 170.3 Z" fill="#4EDB78"/>
<text x="1031.0" y="166.6" class="tg" fill="#000" stroke="#000" stroke-width=".45" textLength="33" lengthAdjust="spacingAndGlyphs">0.087</text>
<path d="M1023.0 166.8 L1031.0 156.8 L1081.5 156.8 L1081.5 176.8 L1031.0 176.8 Z" fill="#000"/>
<text x="1031.0" y="171.7" class="tg" fill="#fff" textLength="33" lengthAdjust="spacingAndGlyphs">0.757</text>
<text transform="translate(1089,293) rotate(90)" text-anchor="middle" class="yl">Percent/Percentage Point</text>
</g>
<ellipse cx="984" cy="232" rx="17" ry="84.3" fill="none" stroke="#F84040" stroke-width="3.1" style="filter:drop-shadow(1.5px 1.5px 2px rgba(110,110,110,.75))"/>
<g>
<line x1="0" y1="1079.5" x2="1021.5" y2="1079.5" stroke="#CDCDCD" stroke-width="1"/>
<line x1="0" y1="1056.5" x2="1021.5" y2="1056.5" stroke="#CDCDCD" stroke-width="1"/>
<line x1="0" y1="1034.5" x2="1021.5" y2="1034.5" stroke="#CDCDCD" stroke-width="1"/>
<line x1="0" y1="1011.5" x2="1021.5" y2="1011.5" stroke="#CDCDCD" stroke-width="1"/>
<line x1="0" y1="988.5" x2="1021.5" y2="988.5" stroke="#CDCDCD" stroke-width="1"/>
<line x1="0" y1="966.5" x2="1021.5" y2="966.5" stroke="#CDCDCD" stroke-width="1"/>
<line x1="0" y1="920.5" x2="1021.5" y2="920.5" stroke="#CDCDCD" stroke-width="1"/>
<line x1="0" y1="898.5" x2="1021.5" y2="898.5" stroke="#CDCDCD" stroke-width="1"/>
<line x1="0" y1="875.5" x2="1021.5" y2="875.5" stroke="#CDCDCD" stroke-width="1"/>
<line x1="0" y1="852.5" x2="1021.5" y2="852.5" stroke="#CDCDCD" stroke-width="1"/>
<line x1="0" y1="830.5" x2="1021.5" y2="830.5" stroke="#CDCDCD" stroke-width="1"/>
<line x1="0" y1="807.5" x2="1021.5" y2="807.5" stroke="#CDCDCD" stroke-width="1"/>
<line x1="0" y1="784.5" x2="1021.5" y2="784.5" stroke="#CDCDCD" stroke-width="1"/>
<line x1="0" y1="762.5" x2="1021.5" y2="762.5" stroke="#CDCDCD" stroke-width="1"/>
<line x1="0" y1="739.5" x2="1021.5" y2="739.5" stroke="#CDCDCD" stroke-width="1"/>
<line x1="0" y1="717.5" x2="1021.5" y2="717.5" stroke="#CDCDCD" stroke-width="1"/>
<line x1="0" y1="694.5" x2="1021.5" y2="694.5" stroke="#CDCDCD" stroke-width="1"/>
<line x1="0" y1="671.5" x2="1021.5" y2="671.5" stroke="#CDCDCD" stroke-width="1"/>
<line x1="0" y1="649.5" x2="1021.5" y2="649.5" stroke="#CDCDCD" stroke-width="1"/>
<line x1="0" y1="626.5" x2="1021.5" y2="626.5" stroke="#CDCDCD" stroke-width="1"/>
<line x1="8.5" y1="609.8" x2="8.5" y2="1081" stroke="#CDCDCD" stroke-width="1"/>
<line x1="59.5" y1="609.8" x2="59.5" y2="1081" stroke="#CDCDCD" stroke-width="1"/>
<line x1="109.5" y1="609.8" x2="109.5" y2="1081" stroke="#CDCDCD" stroke-width="1"/>
<line x1="160.5" y1="609.8" x2="160.5" y2="1081" stroke="#CDCDCD" stroke-width="1"/>
<line x1="210.5" y1="609.8" x2="210.5" y2="1081" stroke="#CDCDCD" stroke-width="1"/>
<line x1="261.5" y1="609.8" x2="261.5" y2="1081" stroke="#CDCDCD" stroke-width="1"/>
<line x1="311.5" y1="609.8" x2="311.5" y2="1081" stroke="#CDCDCD" stroke-width="1"/>
<line x1="362.5" y1="609.8" x2="362.5" y2="1081" stroke="#CDCDCD" stroke-width="1"/>
<line x1="412.5" y1="609.8" x2="412.5" y2="1081" stroke="#CDCDCD" stroke-width="1"/>
<line x1="463.5" y1="609.8" x2="463.5" y2="1081" stroke="#CDCDCD" stroke-width="1"/>
<line x1="514.5" y1="609.8" x2="514.5" y2="1081" stroke="#CDCDCD" stroke-width="1"/>
<line x1="564.5" y1="609.8" x2="564.5" y2="1081" stroke="#CDCDCD" stroke-width="1"/>
<line x1="615.5" y1="609.8" x2="615.5" y2="1081" stroke="#CDCDCD" stroke-width="1"/>
<line x1="665.5" y1="609.8" x2="665.5" y2="1081" stroke="#CDCDCD" stroke-width="1"/>
<line x1="716.5" y1="609.8" x2="716.5" y2="1081" stroke="#CDCDCD" stroke-width="1"/>
<line x1="766.5" y1="609.8" x2="766.5" y2="1081" stroke="#CDCDCD" stroke-width="1"/>
<line x1="817.5" y1="609.8" x2="817.5" y2="1081" stroke="#CDCDCD" stroke-width="1"/>
<line x1="867.5" y1="609.8" x2="867.5" y2="1081" stroke="#CDCDCD" stroke-width="1"/>
<line x1="918.5" y1="609.8" x2="918.5" y2="1081" stroke="#CDCDCD" stroke-width="1"/>
<line x1="968.5" y1="609.8" x2="968.5" y2="1081" stroke="#CDCDCD" stroke-width="1"/>
<line x1="0" y1="943.5" x2="1021.5" y2="943.5" stroke="#8A8A8A" stroke-width="1.2"/>
<rect x="3.1" y="922.3" width="11.4" height="21.2" fill="#FDAA40"/>
<rect x="3.1" y="915.5" width="11.4" height="6.8" fill="#4AB8E6"/>
<rect x="3.1" y="898.9" width="11.4" height="16.6" fill="#6CA83F"/>
<rect x="3.1" y="894.3" width="11.4" height="4.6" fill="#2342F2"/>
<rect x="3.1" y="830.5" width="11.4" height="63.8" fill="#FA6049"/>
<rect x="3.1" y="943.5" width="11.4" height="5.3" fill="#2874D9"/>
<rect x="3.1" y="948.8" width="11.4" height="4.0" fill="#4EDB78"/>
<rect x="19.9" y="921.8" width="11.4" height="21.7" fill="#FDAA40"/>
<rect x="19.9" y="915.5" width="11.4" height="6.4" fill="#4AB8E6"/>
<rect x="19.9" y="899.9" width="11.4" height="15.6" fill="#6CA83F"/>
<rect x="19.9" y="895.5" width="11.4" height="4.4" fill="#2342F2"/>
<rect x="19.9" y="828.5" width="11.4" height="67.0" fill="#FA6049"/>
<rect x="19.9" y="943.5" width="11.4" height="49.6" fill="#2874D9"/>
<rect x="19.9" y="993.1" width="11.4" height="16.6" fill="#4EDB78"/>
<rect x="36.8" y="923.8" width="11.4" height="19.7" fill="#FDAA40"/>
<rect x="36.8" y="916.9" width="11.4" height="7.0" fill="#4AB8E6"/>
<rect x="36.8" y="890.3" width="11.4" height="26.5" fill="#6CA83F"/>
<rect x="36.8" y="884.3" width="11.4" height="6.0" fill="#2342F2"/>
<rect x="36.8" y="817.5" width="11.4" height="66.8" fill="#FA6049"/>
<rect x="36.8" y="943.5" width="11.4" height="78.7" fill="#2874D9"/>
<rect x="36.8" y="1022.2" width="11.4" height="20.0" fill="#4EDB78"/>
<rect x="53.6" y="925.4" width="11.4" height="18.1" fill="#FDAA40"/>
<rect x="53.6" y="916.9" width="11.4" height="8.6" fill="#4AB8E6"/>
<rect x="53.6" y="896.3" width="11.4" height="20.5" fill="#6CA83F"/>
<rect x="53.6" y="891.5" width="11.4" height="4.8" fill="#2342F2"/>
<rect x="53.6" y="822.1" width="11.4" height="69.4" fill="#FA6049"/>
<rect x="53.6" y="943.5" width="11.4" height="62.8" fill="#2874D9"/>
<rect x="53.6" y="1006.3" width="11.4" height="21.5" fill="#4EDB78"/>
<rect x="70.4" y="914.3" width="11.4" height="29.2" fill="#FDAA40"/>
<rect x="70.4" y="904.9" width="11.4" height="9.4" fill="#4AB8E6"/>
<rect x="70.4" y="892.3" width="11.4" height="12.6" fill="#6CA83F"/>
<rect x="70.4" y="887.6" width="11.4" height="4.8" fill="#2342F2"/>
<rect x="70.4" y="819.5" width="11.4" height="68.1" fill="#FA6049"/>
<rect x="70.4" y="943.5" width="11.4" height="33.6" fill="#2874D9"/>
<rect x="70.4" y="977.1" width="11.4" height="19.6" fill="#4EDB78"/>
<rect x="87.3" y="914.3" width="11.4" height="29.2" fill="#FDAA40"/>
<rect x="87.3" y="905.9" width="11.4" height="8.4" fill="#4AB8E6"/>
<rect x="87.3" y="891.9" width="11.4" height="14.0" fill="#6CA83F"/>
<rect x="87.3" y="886.3" width="11.4" height="5.6" fill="#2342F2"/>
<rect x="87.3" y="824.5" width="11.4" height="61.8" fill="#FA6049"/>
<rect x="87.3" y="943.5" width="11.4" height="35.6" fill="#2874D9"/>
<rect x="87.3" y="979.1" width="11.4" height="14.6" fill="#4EDB78"/>
<rect x="104.1" y="914.3" width="11.4" height="29.2" fill="#FDAA40"/>
<rect x="104.1" y="906.3" width="11.4" height="8.0" fill="#4AB8E6"/>
<rect x="104.1" y="888.9" width="11.4" height="17.3" fill="#6CA83F"/>
<rect x="104.1" y="883.6" width="11.4" height="5.4" fill="#2342F2"/>
<rect x="104.1" y="826.5" width="11.4" height="57.1" fill="#FA6049"/>
<rect x="104.1" y="943.5" width="11.4" height="44.6" fill="#2874D9"/>
<rect x="104.1" y="988.1" width="11.4" height="17.6" fill="#4EDB78"/>
<rect x="120.9" y="915.5" width="11.4" height="28.0" fill="#FDAA40"/>
<rect x="120.9" y="906.9" width="11.4" height="8.6" fill="#4AB8E6"/>
<rect x="120.9" y="890.9" width="11.4" height="16.0" fill="#6CA83F"/>
<rect x="120.9" y="884.9" width="11.4" height="6.0" fill="#2342F2"/>
<rect x="120.9" y="842.5" width="11.4" height="42.4" fill="#FA6049"/>
<rect x="120.9" y="943.5" width="11.4" height="45.6" fill="#2874D9"/>
<rect x="120.9" y="989.1" width="11.4" height="17.6" fill="#4EDB78"/>
<rect x="137.8" y="918.3" width="11.4" height="25.2" fill="#FDAA40"/>
<rect x="137.8" y="912.3" width="11.4" height="6.0" fill="#4AB8E6"/>
<rect x="137.8" y="895.9" width="11.4" height="16.3" fill="#6CA83F"/>
<rect x="137.8" y="890.3" width="11.4" height="5.6" fill="#2342F2"/>
<rect x="137.8" y="852.4" width="11.4" height="37.9" fill="#FA6049"/>
<rect x="137.8" y="943.5" width="11.4" height="30.8" fill="#2874D9"/>
<rect x="137.8" y="974.3" width="11.4" height="12.3" fill="#4EDB78"/>
<rect x="154.6" y="919.5" width="11.4" height="24.0" fill="#FDAA40"/>
<rect x="154.6" y="911.5" width="11.4" height="8.0" fill="#4AB8E6"/>
<rect x="154.6" y="900.9" width="11.4" height="10.6" fill="#6CA83F"/>
<rect x="154.6" y="895.5" width="11.4" height="5.4" fill="#2342F2"/>
<rect x="154.6" y="862.4" width="11.4" height="33.1" fill="#FA6049"/>
<rect x="154.6" y="943.5" width="11.4" height="30.8" fill="#2874D9"/>
<rect x="154.6" y="974.3" width="11.4" height="7.4" fill="#4EDB78"/>
<rect x="171.5" y="921.8" width="11.4" height="21.7" fill="#FDAA40"/>
<rect x="171.5" y="917.8" width="11.4" height="4.0" fill="#4AB8E6"/>
<rect x="171.5" y="914.9" width="11.4" height="3.0" fill="#6CA83F"/>
<rect x="171.5" y="908.3" width="11.4" height="6.6" fill="#2342F2"/>
<rect x="171.5" y="874.4" width="11.4" height="33.9" fill="#FA6049"/>
<rect x="171.5" y="943.5" width="11.4" height="35.6" fill="#2874D9"/>
<rect x="171.5" y="979.1" width="11.4" height="9.6" fill="#4EDB78"/>
<rect x="188.3" y="921.8" width="11.4" height="21.7" fill="#FDAA40"/>
<rect x="188.3" y="915.5" width="11.4" height="6.4" fill="#4AB8E6"/>
<rect x="188.3" y="908.9" width="11.4" height="6.6" fill="#6CA83F"/>
<rect x="188.3" y="902.3" width="11.4" height="6.6" fill="#2342F2"/>
<rect x="188.3" y="867.4" width="11.4" height="34.9" fill="#FA6049"/>
<rect x="188.3" y="943.5" width="11.4" height="38.6" fill="#2874D9"/>
<rect x="188.3" y="982.1" width="11.4" height="18.6" fill="#4EDB78"/>
<rect x="205.1" y="921.8" width="11.4" height="21.7" fill="#FDAA40"/>
<rect x="205.1" y="914.3" width="11.4" height="7.6" fill="#4AB8E6"/>
<rect x="205.1" y="906.3" width="11.4" height="8.0" fill="#6CA83F"/>
<rect x="205.1" y="900.3" width="11.4" height="5.9" fill="#2342F2"/>
<rect x="205.1" y="868.4" width="11.4" height="31.9" fill="#FA6049"/>
<rect x="205.1" y="943.5" width="11.4" height="13.7" fill="#2874D9"/>
<rect x="205.1" y="957.2" width="11.4" height="3.6" fill="#4EDB78"/>
<rect x="222.0" y="922.1" width="11.4" height="21.4" fill="#FDAA40"/>
<rect x="222.0" y="914.1" width="11.4" height="8.0" fill="#4AB8E6"/>
<rect x="222.0" y="903.7" width="11.4" height="10.4" fill="#6CA83F"/>
<rect x="222.0" y="896.8" width="11.4" height="6.9" fill="#2342F2"/>
<rect x="222.0" y="870.2" width="11.4" height="26.6" fill="#FA6049"/>
<rect x="222.0" y="823.6" width="11.4" height="46.7" fill="#2874D9"/>
<rect x="222.0" y="805.0" width="11.4" height="18.5" fill="#4EDB78"/>
<rect x="238.8" y="920.3" width="11.4" height="23.2" fill="#FDAA40"/>
<rect x="238.8" y="912.7" width="11.4" height="7.6" fill="#4AB8E6"/>
<rect x="238.8" y="909.3" width="11.4" height="3.4" fill="#6CA83F"/>
<rect x="238.8" y="902.1" width="11.4" height="7.2" fill="#2342F2"/>
<rect x="238.8" y="884.2" width="11.4" height="17.9" fill="#FA6049"/>
<rect x="238.8" y="792.5" width="11.4" height="91.8" fill="#2874D9"/>
<rect x="238.8" y="766.1" width="11.4" height="26.3" fill="#4EDB78"/>
<rect x="255.6" y="918.3" width="11.4" height="25.2" fill="#FDAA40"/>
<rect x="255.6" y="912.1" width="11.4" height="6.2" fill="#4AB8E6"/>
<rect x="255.6" y="900.1" width="11.4" height="12.0" fill="#6CA83F"/>
<rect x="255.6" y="893.4" width="11.4" height="6.8" fill="#2342F2"/>
<rect x="255.6" y="881.4" width="11.4" height="12.0" fill="#FA6049"/>
<rect x="255.6" y="794.0" width="11.4" height="87.3" fill="#2874D9"/>
<rect x="255.6" y="760.1" width="11.4" height="33.9" fill="#4EDB78"/>
<rect x="272.5" y="929.7" width="11.4" height="13.8" fill="#FDAA40"/>
<rect x="272.5" y="922.1" width="11.4" height="7.6" fill="#4AB8E6"/>
<rect x="272.5" y="899.1" width="11.4" height="23.0" fill="#6CA83F"/>
<rect x="272.5" y="892.2" width="11.4" height="6.9" fill="#2342F2"/>
<rect x="272.5" y="882.2" width="11.4" height="10.0" fill="#FA6049"/>
<rect x="272.5" y="828.4" width="11.4" height="53.8" fill="#2874D9"/>
<rect x="272.5" y="784.5" width="11.4" height="43.9" fill="#4EDB78"/>
<rect x="289.3" y="928.7" width="11.4" height="14.8" fill="#FDAA40"/>
<rect x="289.3" y="919.1" width="11.4" height="9.6" fill="#4AB8E6"/>
<rect x="289.3" y="898.1" width="11.4" height="21.0" fill="#6CA83F"/>
<rect x="289.3" y="891.2" width="11.4" height="7.0" fill="#2342F2"/>
<rect x="289.3" y="878.8" width="11.4" height="12.3" fill="#FA6049"/>
<rect x="289.3" y="840.3" width="11.4" height="38.5" fill="#2874D9"/>
<rect x="289.3" y="803.4" width="11.4" height="36.9" fill="#4EDB78"/>
<rect x="306.1" y="926.1" width="11.4" height="17.4" fill="#FDAA40"/>
<rect x="306.1" y="916.3" width="11.4" height="9.8" fill="#4AB8E6"/>
<rect x="306.1" y="894.2" width="11.4" height="22.2" fill="#6CA83F"/>
<rect x="306.1" y="888.2" width="11.4" height="5.9" fill="#2342F2"/>
<rect x="306.1" y="877.4" width="11.4" height="10.8" fill="#FA6049"/>
<rect x="306.1" y="840.3" width="11.4" height="37.1" fill="#2874D9"/>
<rect x="306.1" y="804.4" width="11.4" height="35.9" fill="#4EDB78"/>
<rect x="323.0" y="925.3" width="11.4" height="18.2" fill="#FDAA40"/>
<rect x="323.0" y="914.1" width="11.4" height="11.2" fill="#4AB8E6"/>
<rect x="323.0" y="890.2" width="11.4" height="23.9" fill="#6CA83F"/>
<rect x="323.0" y="883.4" width="11.4" height="6.8" fill="#2342F2"/>
<rect x="323.0" y="863.5" width="11.4" height="19.9" fill="#FA6049"/>
<rect x="323.0" y="825.4" width="11.4" height="38.1" fill="#2874D9"/>
<rect x="323.0" y="784.5" width="11.4" height="40.9" fill="#4EDB78"/>
<rect x="339.8" y="925.3" width="11.4" height="18.2" fill="#FDAA40"/>
<rect x="339.8" y="913.3" width="11.4" height="12.0" fill="#4AB8E6"/>
<rect x="339.8" y="895.4" width="11.4" height="17.9" fill="#6CA83F"/>
<rect x="339.8" y="889.4" width="11.4" height="6.0" fill="#2342F2"/>
<rect x="339.8" y="864.2" width="11.4" height="25.2" fill="#FA6049"/>
<rect x="339.8" y="831.3" width="11.4" height="32.9" fill="#2874D9"/>
<rect x="339.8" y="788.1" width="11.4" height="43.3" fill="#4EDB78"/>
<rect x="356.6" y="925.3" width="11.4" height="18.2" fill="#FDAA40"/>
<rect x="356.6" y="913.3" width="11.4" height="12.0" fill="#4AB8E6"/>
<rect x="356.6" y="892.2" width="11.4" height="21.1" fill="#6CA83F"/>
<rect x="356.6" y="886.2" width="11.4" height="6.0" fill="#2342F2"/>
<rect x="356.6" y="855.5" width="11.4" height="30.7" fill="#FA6049"/>
<rect x="356.6" y="820.4" width="11.4" height="35.1" fill="#2874D9"/>
<rect x="356.6" y="776.5" width="11.4" height="43.9" fill="#4EDB78"/>
<rect x="373.5" y="925.3" width="11.4" height="18.2" fill="#FDAA40"/>
<rect x="373.5" y="910.1" width="11.4" height="15.2" fill="#4AB8E6"/>
<rect x="373.5" y="880.2" width="11.4" height="29.9" fill="#6CA83F"/>
<rect x="373.5" y="872.2" width="11.4" height="8.0" fill="#2342F2"/>
<rect x="373.5" y="839.3" width="11.4" height="32.9" fill="#FA6049"/>
<rect x="373.5" y="791.5" width="11.4" height="47.9" fill="#2874D9"/>
<rect x="373.5" y="753.5" width="11.4" height="37.9" fill="#4EDB78"/>
<rect x="390.3" y="925.3" width="11.4" height="18.2" fill="#FDAA40"/>
<rect x="390.3" y="909.3" width="11.4" height="16.0" fill="#4AB8E6"/>
<rect x="390.3" y="878.2" width="11.4" height="31.1" fill="#6CA83F"/>
<rect x="390.3" y="870.2" width="11.4" height="8.0" fill="#2342F2"/>
<rect x="390.3" y="841.3" width="11.4" height="28.9" fill="#FA6049"/>
<rect x="390.3" y="782.3" width="11.4" height="59.0" fill="#2874D9"/>
<rect x="390.3" y="737.8" width="11.4" height="44.5" fill="#4EDB78"/>
<rect x="407.1" y="926.1" width="11.4" height="17.4" fill="#FDAA40"/>
<rect x="407.1" y="910.9" width="11.4" height="15.2" fill="#4AB8E6"/>
<rect x="407.1" y="883.0" width="11.4" height="27.9" fill="#6CA83F"/>
<rect x="407.1" y="875.3" width="11.4" height="7.7" fill="#2342F2"/>
<rect x="407.1" y="840.1" width="11.4" height="35.2" fill="#FA6049"/>
<rect x="407.1" y="769.4" width="11.4" height="70.7" fill="#2874D9"/>
<rect x="407.1" y="722.3" width="11.4" height="47.2" fill="#4EDB78"/>
<rect x="424.0" y="926.1" width="11.4" height="17.4" fill="#FDAA40"/>
<rect x="424.0" y="910.1" width="11.4" height="16.0" fill="#4AB8E6"/>
<rect x="424.0" y="884.2" width="11.4" height="25.9" fill="#6CA83F"/>
<rect x="424.0" y="876.3" width="11.4" height="7.9" fill="#2342F2"/>
<rect x="424.0" y="834.4" width="11.4" height="41.9" fill="#FA6049"/>
<rect x="424.0" y="751.4" width="11.4" height="83.0" fill="#2874D9"/>
<rect x="424.0" y="711.3" width="11.4" height="40.0" fill="#4EDB78"/>
<rect x="440.8" y="926.2" width="11.4" height="17.3" fill="#FDAA40"/>
<rect x="440.8" y="909.2" width="11.4" height="17.0" fill="#4AB8E6"/>
<rect x="440.8" y="881.3" width="11.4" height="27.9" fill="#6CA83F"/>
<rect x="440.8" y="873.3" width="11.4" height="8.0" fill="#2342F2"/>
<rect x="440.8" y="825.5" width="11.4" height="47.8" fill="#FA6049"/>
<rect x="440.8" y="743.2" width="11.4" height="82.3" fill="#2874D9"/>
<rect x="440.8" y="705.9" width="11.4" height="37.3" fill="#4EDB78"/>
<rect x="457.6" y="926.2" width="11.4" height="17.3" fill="#FDAA40"/>
<rect x="457.6" y="909.2" width="11.4" height="17.0" fill="#4AB8E6"/>
<rect x="457.6" y="882.3" width="11.4" height="26.9" fill="#6CA83F"/>
<rect x="457.6" y="874.3" width="11.4" height="8.0" fill="#2342F2"/>
<rect x="457.6" y="816.5" width="11.4" height="57.7" fill="#FA6049"/>
<rect x="457.6" y="723.3" width="11.4" height="93.3" fill="#2874D9"/>
<rect x="457.6" y="696.9" width="11.4" height="26.3" fill="#4EDB78"/>
<rect x="474.5" y="928.2" width="11.4" height="15.3" fill="#FDAA40"/>
<rect x="474.5" y="913.2" width="11.4" height="15.0" fill="#4AB8E6"/>
<rect x="474.5" y="887.2" width="11.4" height="25.9" fill="#6CA83F"/>
<rect x="474.5" y="879.3" width="11.4" height="8.0" fill="#2342F2"/>
<rect x="474.5" y="818.3" width="11.4" height="60.9" fill="#FA6049"/>
<rect x="474.5" y="724.3" width="11.4" height="94.1" fill="#2874D9"/>
<rect x="474.5" y="712.3" width="11.4" height="11.9" fill="#4EDB78"/>
<rect x="491.3" y="928.2" width="11.4" height="15.3" fill="#FDAA40"/>
<rect x="491.3" y="913.2" width="11.4" height="15.0" fill="#4AB8E6"/>
<rect x="491.3" y="889.2" width="11.4" height="23.9" fill="#6CA83F"/>
<rect x="491.3" y="880.3" width="11.4" height="9.0" fill="#2342F2"/>
<rect x="491.3" y="812.5" width="11.4" height="67.7" fill="#FA6049"/>
<rect x="491.3" y="700.9" width="11.4" height="111.6" fill="#2874D9"/>
<rect x="491.3" y="685.4" width="11.4" height="15.5" fill="#4EDB78"/>
<rect x="508.2" y="929.2" width="11.4" height="14.3" fill="#FDAA40"/>
<rect x="508.2" y="915.2" width="11.4" height="14.0" fill="#4AB8E6"/>
<rect x="508.2" y="892.2" width="11.4" height="22.9" fill="#6CA83F"/>
<rect x="508.2" y="882.3" width="11.4" height="10.0" fill="#2342F2"/>
<rect x="508.2" y="804.3" width="11.4" height="78.0" fill="#FA6049"/>
<rect x="508.2" y="664.4" width="11.4" height="139.9" fill="#2874D9"/>
<rect x="508.2" y="649.1" width="11.4" height="15.3" fill="#4EDB78"/>
<rect x="525.0" y="930.2" width="11.4" height="13.3" fill="#FDAA40"/>
<rect x="525.0" y="916.2" width="11.4" height="14.0" fill="#4AB8E6"/>
<rect x="525.0" y="894.2" width="11.4" height="21.9" fill="#6CA83F"/>
<rect x="525.0" y="885.3" width="11.4" height="9.0" fill="#2342F2"/>
<rect x="525.0" y="819.2" width="11.4" height="66.0" fill="#FA6049"/>
<rect x="525.0" y="672.4" width="11.4" height="146.8" fill="#2874D9"/>
<rect x="525.0" y="654.1" width="11.4" height="18.3" fill="#4EDB78"/>
<rect x="541.8" y="921.2" width="11.4" height="22.3" fill="#FDAA40"/>
<rect x="541.8" y="905.2" width="11.4" height="16.0" fill="#4AB8E6"/>
<rect x="541.8" y="875.3" width="11.4" height="29.9" fill="#6CA83F"/>
<rect x="541.8" y="866.3" width="11.4" height="8.9" fill="#2342F2"/>
<rect x="541.8" y="813.3" width="11.4" height="53.0" fill="#FA6049"/>
<rect x="541.8" y="673.0" width="11.4" height="140.3" fill="#2874D9"/>
<rect x="541.8" y="661.7" width="11.4" height="11.4" fill="#4EDB78"/>
<rect x="558.7" y="919.2" width="11.4" height="24.3" fill="#FDAA40"/>
<rect x="558.7" y="906.2" width="11.4" height="13.0" fill="#4AB8E6"/>
<rect x="558.7" y="874.3" width="11.4" height="31.9" fill="#6CA83F"/>
<rect x="558.7" y="865.3" width="11.4" height="8.9" fill="#2342F2"/>
<rect x="558.7" y="815.1" width="11.4" height="50.2" fill="#FA6049"/>
<rect x="558.7" y="672.4" width="11.4" height="142.7" fill="#2874D9"/>
<rect x="558.7" y="661.7" width="11.4" height="10.8" fill="#4EDB78"/>
<rect x="575.5" y="916.2" width="11.4" height="27.3" fill="#FDAA40"/>
<rect x="575.5" y="903.2" width="11.4" height="13.0" fill="#4AB8E6"/>
<rect x="575.5" y="871.3" width="11.4" height="31.9" fill="#6CA83F"/>
<rect x="575.5" y="862.3" width="11.4" height="9.0" fill="#2342F2"/>
<rect x="575.5" y="825.3" width="11.4" height="37.0" fill="#FA6049"/>
<rect x="575.5" y="682.4" width="11.4" height="142.9" fill="#2874D9"/>
<rect x="575.5" y="664.4" width="11.4" height="18.0" fill="#4EDB78"/>
<rect x="592.3" y="916.2" width="11.4" height="27.3" fill="#FDAA40"/>
<rect x="592.3" y="903.2" width="11.4" height="13.0" fill="#4AB8E6"/>
<rect x="592.3" y="867.1" width="11.4" height="36.1" fill="#6CA83F"/>
<rect x="592.3" y="857.1" width="11.4" height="10.0" fill="#2342F2"/>
<rect x="592.3" y="831.3" width="11.4" height="25.9" fill="#FA6049"/>
<rect x="592.3" y="687.2" width="11.4" height="144.1" fill="#2874D9"/>
<rect x="592.3" y="666.2" width="11.4" height="21.0" fill="#4EDB78"/>
<rect x="609.2" y="912.2" width="11.4" height="31.3" fill="#FDAA40"/>
<rect x="609.2" y="899.1" width="11.4" height="13.1" fill="#4AB8E6"/>
<rect x="609.2" y="866.2" width="11.4" height="32.9" fill="#6CA83F"/>
<rect x="609.2" y="856.2" width="11.4" height="10.0" fill="#2342F2"/>
<rect x="609.2" y="843.2" width="11.4" height="13.0" fill="#FA6049"/>
<rect x="609.2" y="706.4" width="11.4" height="136.8" fill="#2874D9"/>
<rect x="609.2" y="679.5" width="11.4" height="26.9" fill="#4EDB78"/>
<rect x="626.0" y="914.3" width="11.4" height="29.2" fill="#FDAA40"/>
<rect x="626.0" y="897.9" width="11.4" height="16.3" fill="#4AB8E6"/>
<rect x="626.0" y="863.4" width="11.4" height="34.5" fill="#6CA83F"/>
<rect x="626.0" y="852.1" width="11.4" height="11.4" fill="#2342F2"/>
<rect x="626.0" y="848.2" width="11.4" height="3.9" fill="#FA6049"/>
<rect x="626.0" y="736.3" width="11.4" height="111.9" fill="#2874D9"/>
<rect x="626.0" y="711.4" width="11.4" height="24.9" fill="#4EDB78"/>
<rect x="642.8" y="917.3" width="11.4" height="26.2" fill="#FDAA40"/>
<rect x="642.8" y="899.9" width="11.4" height="17.3" fill="#4AB8E6"/>
<rect x="642.8" y="869.0" width="11.4" height="30.9" fill="#6CA83F"/>
<rect x="642.8" y="858.0" width="11.4" height="11.0" fill="#2342F2"/>
<rect x="642.8" y="754.3" width="11.4" height="103.7" fill="#2874D9"/>
<rect x="642.8" y="733.3" width="11.4" height="21.0" fill="#4EDB78"/>
<rect x="642.8" y="943.5" width="11.4" height="1.7" fill="#FA6049"/>
<rect x="659.7" y="921.3" width="11.4" height="22.2" fill="#FDAA40"/>
<rect x="659.7" y="904.9" width="11.4" height="16.3" fill="#4AB8E6"/>
<rect x="659.7" y="872.0" width="11.4" height="32.9" fill="#6CA83F"/>
<rect x="659.7" y="862.0" width="11.4" height="10.0" fill="#2342F2"/>
<rect x="659.7" y="777.2" width="11.4" height="84.8" fill="#2874D9"/>
<rect x="659.7" y="753.3" width="11.4" height="23.9" fill="#4EDB78"/>
<rect x="659.7" y="943.5" width="11.4" height="8.7" fill="#FA6049"/>
<rect x="676.5" y="918.3" width="11.4" height="25.2" fill="#FDAA40"/>
<rect x="676.5" y="903.3" width="11.4" height="14.9" fill="#4AB8E6"/>
<rect x="676.5" y="869.0" width="11.4" height="34.3" fill="#6CA83F"/>
<rect x="676.5" y="858.0" width="11.4" height="11.0" fill="#2342F2"/>
<rect x="676.5" y="765.2" width="11.4" height="92.8" fill="#2874D9"/>
<rect x="676.5" y="737.3" width="11.4" height="27.9" fill="#4EDB78"/>
<rect x="676.5" y="943.5" width="11.4" height="17.3" fill="#FA6049"/>
<rect x="693.3" y="919.5" width="11.4" height="24.0" fill="#FDAA40"/>
<rect x="693.3" y="903.3" width="11.4" height="16.2" fill="#4AB8E6"/>
<rect x="693.3" y="870.0" width="11.4" height="33.3" fill="#6CA83F"/>
<rect x="693.3" y="859.0" width="11.4" height="11.0" fill="#2342F2"/>
<rect x="693.3" y="754.3" width="11.4" height="104.7" fill="#2874D9"/>
<rect x="693.3" y="735.3" width="11.4" height="19.0" fill="#4EDB78"/>
<rect x="693.3" y="943.5" width="11.4" height="25.7" fill="#FA6049"/>
<rect x="710.2" y="921.3" width="11.4" height="22.2" fill="#FDAA40"/>
<rect x="710.2" y="903.9" width="11.4" height="17.3" fill="#4AB8E6"/>
<rect x="710.2" y="868.0" width="11.4" height="35.9" fill="#6CA83F"/>
<rect x="710.2" y="858.0" width="11.4" height="10.0" fill="#2342F2"/>
<rect x="710.2" y="766.2" width="11.4" height="91.8" fill="#2874D9"/>
<rect x="710.2" y="736.3" width="11.4" height="29.9" fill="#4EDB78"/>
<rect x="710.2" y="943.5" width="11.4" height="31.6" fill="#FA6049"/>
<rect x="727.0" y="922.3" width="11.4" height="21.2" fill="#FDAA40"/>
<rect x="727.0" y="904.9" width="11.4" height="17.3" fill="#4AB8E6"/>
<rect x="727.0" y="874.0" width="11.4" height="30.9" fill="#6CA83F"/>
<rect x="727.0" y="864.0" width="11.4" height="10.0" fill="#2342F2"/>
<rect x="727.0" y="769.8" width="11.4" height="94.2" fill="#2874D9"/>
<rect x="727.0" y="752.3" width="11.4" height="17.5" fill="#4EDB78"/>
<rect x="727.0" y="943.5" width="11.4" height="22.7" fill="#FA6049"/>
<rect x="743.8" y="931.2" width="11.4" height="12.3" fill="#FDAA40"/>
<rect x="743.8" y="915.3" width="11.4" height="16.0" fill="#4AB8E6"/>
<rect x="743.8" y="887.9" width="11.4" height="27.3" fill="#6CA83F"/>
<rect x="743.8" y="878.0" width="11.4" height="9.9" fill="#2342F2"/>
<rect x="743.8" y="774.2" width="11.4" height="103.8" fill="#2874D9"/>
<rect x="743.8" y="757.3" width="11.4" height="16.9" fill="#4EDB78"/>
<rect x="743.8" y="943.5" width="11.4" height="9.7" fill="#FA6049"/>
<rect x="760.7" y="932.2" width="11.4" height="11.3" fill="#FDAA40"/>
<rect x="760.7" y="914.9" width="11.4" height="17.3" fill="#4AB8E6"/>
<rect x="760.7" y="883.9" width="11.4" height="31.0" fill="#6CA83F"/>
<rect x="760.7" y="874.0" width="11.4" height="9.9" fill="#2342F2"/>
<rect x="760.7" y="774.2" width="11.4" height="99.8" fill="#2874D9"/>
<rect x="760.7" y="760.3" width="11.4" height="13.9" fill="#4EDB78"/>
<rect x="760.7" y="943.5" width="11.4" height="5.7" fill="#FA6049"/>
<rect x="777.5" y="932.2" width="11.4" height="11.3" fill="#FDAA40"/>
<rect x="777.5" y="914.3" width="11.4" height="18.0" fill="#4AB8E6"/>
<rect x="777.5" y="885.3" width="11.4" height="28.9" fill="#6CA83F"/>
<rect x="777.5" y="874.0" width="11.4" height="11.3" fill="#2342F2"/>
<rect x="777.5" y="867.4" width="11.4" height="6.6" fill="#FA6049"/>
<rect x="777.5" y="768.2" width="11.4" height="99.2" fill="#2874D9"/>
<rect x="777.5" y="749.3" width="11.4" height="18.9" fill="#4EDB78"/>
<rect x="794.3" y="930.2" width="11.4" height="13.3" fill="#FDAA40"/>
<rect x="794.3" y="917.3" width="11.4" height="13.0" fill="#4AB8E6"/>
<rect x="794.3" y="891.3" width="11.4" height="25.9" fill="#6CA83F"/>
<rect x="794.3" y="881.3" width="11.4" height="10.0" fill="#2342F2"/>
<rect x="794.3" y="869.1" width="11.4" height="12.2" fill="#FA6049"/>
<rect x="794.3" y="766.2" width="11.4" height="102.9" fill="#2874D9"/>
<rect x="794.3" y="749.3" width="11.4" height="16.9" fill="#4EDB78"/>
<rect x="811.2" y="930.2" width="11.4" height="13.3" fill="#FDAA40"/>
<rect x="811.2" y="916.2" width="11.4" height="14.0" fill="#4AB8E6"/>
<rect x="811.2" y="891.3" width="11.4" height="24.9" fill="#6CA83F"/>
<rect x="811.2" y="881.3" width="11.4" height="10.0" fill="#2342F2"/>
<rect x="811.2" y="857.2" width="11.4" height="24.1" fill="#FA6049"/>
<rect x="811.2" y="745.4" width="11.4" height="111.9" fill="#2874D9"/>
<rect x="811.2" y="727.4" width="11.4" height="17.9" fill="#4EDB78"/>
<rect x="828.0" y="929.2" width="11.4" height="14.3" fill="#FDAA40"/>
<rect x="828.0" y="916.2" width="11.4" height="13.0" fill="#4AB8E6"/>
<rect x="828.0" y="893.3" width="11.4" height="22.9" fill="#6CA83F"/>
<rect x="828.0" y="883.3" width="11.4" height="10.0" fill="#2342F2"/>
<rect x="828.0" y="853.2" width="11.4" height="30.1" fill="#FA6049"/>
<rect x="828.0" y="736.4" width="11.4" height="116.8" fill="#2874D9"/>
<rect x="828.0" y="723.0" width="11.4" height="13.4" fill="#4EDB78"/>
<rect x="844.8" y="926.2" width="11.4" height="17.3" fill="#FDAA40"/>
<rect x="844.8" y="915.2" width="11.4" height="11.0" fill="#4AB8E6"/>
<rect x="844.8" y="893.3" width="11.4" height="21.9" fill="#6CA83F"/>
<rect x="844.8" y="884.3" width="11.4" height="9.0" fill="#2342F2"/>
<rect x="844.8" y="850.1" width="11.4" height="34.2" fill="#FA6049"/>
<rect x="844.8" y="739.4" width="11.4" height="110.7" fill="#2874D9"/>
<rect x="844.8" y="726.4" width="11.4" height="12.9" fill="#4EDB78"/>
<rect x="861.7" y="923.2" width="11.4" height="20.3" fill="#FDAA40"/>
<rect x="861.7" y="911.2" width="11.4" height="12.0" fill="#4AB8E6"/>
<rect x="861.7" y="892.3" width="11.4" height="18.9" fill="#6CA83F"/>
<rect x="861.7" y="883.3" width="11.4" height="9.0" fill="#2342F2"/>
<rect x="861.7" y="846.3" width="11.4" height="37.0" fill="#FA6049"/>
<rect x="861.7" y="747.4" width="11.4" height="98.9" fill="#2874D9"/>
<rect x="861.7" y="732.4" width="11.4" height="14.9" fill="#4EDB78"/>
<rect x="878.5" y="924.2" width="11.4" height="19.3" fill="#FDAA40"/>
<rect x="878.5" y="911.2" width="11.4" height="13.0" fill="#4AB8E6"/>
<rect x="878.5" y="893.3" width="11.4" height="17.9" fill="#6CA83F"/>
<rect x="878.5" y="885.3" width="11.4" height="8.0" fill="#2342F2"/>
<rect x="878.5" y="848.3" width="11.4" height="37.0" fill="#FA6049"/>
<rect x="878.5" y="755.4" width="11.4" height="92.9" fill="#2874D9"/>
<rect x="878.5" y="740.4" width="11.4" height="15.0" fill="#4EDB78"/>
<rect x="895.4" y="923.2" width="11.4" height="20.3" fill="#FDAA40"/>
<rect x="895.4" y="911.2" width="11.4" height="12.0" fill="#4AB8E6"/>
<rect x="895.4" y="893.3" width="11.4" height="17.9" fill="#6CA83F"/>
<rect x="895.4" y="885.3" width="11.4" height="8.0" fill="#2342F2"/>
<rect x="895.4" y="849.2" width="11.4" height="36.0" fill="#FA6049"/>
<rect x="895.4" y="765.4" width="11.4" height="83.9" fill="#2874D9"/>
<rect x="895.4" y="741.4" width="11.4" height="24.0" fill="#4EDB78"/>
<rect x="912.2" y="923.2" width="11.4" height="20.3" fill="#FDAA40"/>
<rect x="912.2" y="912.2" width="11.4" height="11.0" fill="#4AB8E6"/>
<rect x="912.2" y="900.2" width="11.4" height="12.0" fill="#6CA83F"/>
<rect x="912.2" y="891.3" width="11.4" height="8.9" fill="#2342F2"/>
<rect x="912.2" y="850.1" width="11.4" height="41.2" fill="#FA6049"/>
<rect x="912.2" y="759.4" width="11.4" height="90.7" fill="#2874D9"/>
<rect x="912.2" y="750.4" width="11.4" height="9.0" fill="#4EDB78"/>
<rect x="929.0" y="924.2" width="11.4" height="19.3" fill="#FDAA40"/>
<rect x="929.0" y="914.2" width="11.4" height="10.0" fill="#4AB8E6"/>
<rect x="929.0" y="898.3" width="11.4" height="15.9" fill="#6CA83F"/>
<rect x="929.0" y="889.3" width="11.4" height="9.0" fill="#2342F2"/>
<rect x="929.0" y="846.3" width="11.4" height="43.0" fill="#FA6049"/>
<rect x="929.0" y="758.4" width="11.4" height="87.9" fill="#2874D9"/>
<rect x="929.0" y="746.4" width="11.4" height="12.0" fill="#4EDB78"/>
<rect x="945.9" y="928.2" width="11.4" height="15.3" fill="#FDAA40"/>
<rect x="945.9" y="917.2" width="11.4" height="11.0" fill="#4AB8E6"/>
<rect x="945.9" y="897.3" width="11.4" height="19.9" fill="#6CA83F"/>
<rect x="945.9" y="887.3" width="11.4" height="10.0" fill="#2342F2"/>
<rect x="945.9" y="846.3" width="11.4" height="41.0" fill="#FA6049"/>
<rect x="945.9" y="770.3" width="11.4" height="75.9" fill="#2874D9"/>
<rect x="945.9" y="751.4" width="11.4" height="19.0" fill="#4EDB78"/>
<rect x="962.7" y="928.2" width="11.4" height="15.3" fill="#FDAA40"/>
<rect x="962.7" y="918.2" width="11.4" height="10.0" fill="#4AB8E6"/>
<rect x="962.7" y="902.2" width="11.4" height="16.0" fill="#6CA83F"/>
<rect x="962.7" y="893.3" width="11.4" height="8.9" fill="#2342F2"/>
<rect x="962.7" y="855.2" width="11.4" height="38.0" fill="#FA6049"/>
<rect x="962.7" y="777.3" width="11.4" height="78.0" fill="#2874D9"/>
<rect x="962.7" y="759.4" width="11.4" height="17.9" fill="#4EDB78"/>
<rect x="979.5" y="928.8" width="11.4" height="14.7" fill="#FDAA40"/>
<rect x="979.5" y="923.0" width="11.4" height="5.8" fill="#4AB8E6"/>
<rect x="979.5" y="901.2" width="11.4" height="21.8" fill="#6CA83F"/>
<rect x="979.5" y="893.0" width="11.4" height="8.3" fill="#2342F2"/>
<rect x="979.5" y="862.6" width="11.4" height="30.4" fill="#FA6049"/>
<rect x="979.5" y="776.6" width="11.4" height="86.0" fill="#2874D9"/>
<rect x="979.5" y="761.2" width="11.4" height="15.4" fill="#4EDB78"/>
<polyline points="8.8,858.0 25.6,885.9 42.5,878.4 59.3,874.4 76.1,869.6 93.0,863.0 109.8,853.7 126.6,858.0 143.5,858.0 160.3,853.7 177.2,843.1 194.0,833.1 210.8,803.7 227.7,765.8 244.5,759.2 261.3,752.2 278.2,739.9 295.0,737.9 311.8,744.7 328.7,735.9 345.5,712.0 362.3,705.0 379.2,710.1 396.0,711.0 412.8,713.0 429.7,715.5 446.5,718.9 463.3,714.3 480.2,731.5 497.0,721.9 513.9,710.9 530.7,700.9 547.5,709.9 564.4,718.9 581.2,711.9 598.0,713.2 614.9,725.9 631.7,725.9 648.5,731.9 665.4,737.9 682.2,731.9 699.0,754.3 715.9,753.9 732.7,770.8 749.5,782.8 766.4,787.4 783.2,773.4 800.0,782.8 816.9,776.3 833.7,780.9 850.5,787.9 867.4,792.9 884.2,795.9 901.1,788.9 917.9,795.3 934.7,783.3 951.6,782.9 968.4,783.9" fill="none" stroke="#B4138E" stroke-width="1.7" stroke-linejoin="miter"/>
<polyline points="8.8,840.1 25.6,896.9 42.5,916.3 59.3,907.5 76.1,873.6 93.0,876.4 109.8,889.0 126.6,906.3 143.5,897.5 160.3,901.9 177.2,920.5 194.0,924.8 210.8,888.1 227.7,804.0 244.5,766.1 261.3,760.1 278.2,783.1 295.0,803.6 311.8,804.4 328.7,784.5 345.5,788.1 362.3,776.5 379.2,753.5 396.0,737.8 412.8,722.3 429.7,711.3 446.5,705.9 463.3,696.9 480.2,712.3 497.0,685.4 513.9,649.7 530.7,654.1 547.5,661.7 564.4,661.7 581.2,664.0 598.0,666.1 614.9,679.5 631.7,711.4 648.5,733.3 665.4,761.9 682.2,755.9 699.0,760.9 715.9,767.8 732.7,775.4 749.5,767.8 766.4,766.2 783.2,749.3 800.0,749.6 816.9,727.4 833.7,722.6 850.5,725.6 867.4,733.0 884.2,740.4 901.1,741.4 917.9,750.4 934.7,745.6 951.6,750.4 968.4,759.4 985.2,761.1" fill="none" stroke="#000" stroke-width="3.1" stroke-linejoin="miter" stroke-linecap="butt"/>
<line x1="1021.5" y1="609.8" x2="1021.5" y2="1081.5" stroke="#4A4A4A" stroke-width="1.2"/>
<line x1="0" y1="1081.5" x2="1021.5" y2="1081.5" stroke="#4A4A4A" stroke-width="1.2"/>
<line x1="8.5" y1="1081" x2="8.5" y2="1085.5" stroke="#4A4A4A" stroke-width="1.2"/>
<line x1="59.5" y1="1081" x2="59.5" y2="1085.5" stroke="#4A4A4A" stroke-width="1.2"/>
<line x1="109.5" y1="1081" x2="109.5" y2="1085.5" stroke="#4A4A4A" stroke-width="1.2"/>
<line x1="160.5" y1="1090.3" x2="160.5" y2="1103" stroke="#4A4A4A" stroke-width="1.2"/>
<line x1="160.5" y1="1081" x2="160.5" y2="1085.5" stroke="#4A4A4A" stroke-width="1.2"/>
<line x1="210.5" y1="1081" x2="210.5" y2="1085.5" stroke="#4A4A4A" stroke-width="1.2"/>
<line x1="261.5" y1="1081" x2="261.5" y2="1085.5" stroke="#4A4A4A" stroke-width="1.2"/>
<line x1="311.5" y1="1081" x2="311.5" y2="1085.5" stroke="#4A4A4A" stroke-width="1.2"/>
<line x1="362.5" y1="1090.3" x2="362.5" y2="1103" stroke="#4A4A4A" stroke-width="1.2"/>
<line x1="362.5" y1="1081" x2="362.5" y2="1085.5" stroke="#4A4A4A" stroke-width="1.2"/>
<line x1="412.5" y1="1081" x2="412.5" y2="1085.5" stroke="#4A4A4A" stroke-width="1.2"/>
<line x1="463.5" y1="1081" x2="463.5" y2="1085.5" stroke="#4A4A4A" stroke-width="1.2"/>
<line x1="514.5" y1="1081" x2="514.5" y2="1085.5" stroke="#4A4A4A" stroke-width="1.2"/>
<line x1="564.5" y1="1090.3" x2="564.5" y2="1103" stroke="#4A4A4A" stroke-width="1.2"/>
<line x1="564.5" y1="1081" x2="564.5" y2="1085.5" stroke="#4A4A4A" stroke-width="1.2"/>
<line x1="615.5" y1="1081" x2="615.5" y2="1085.5" stroke="#4A4A4A" stroke-width="1.2"/>
<line x1="665.5" y1="1081" x2="665.5" y2="1085.5" stroke="#4A4A4A" stroke-width="1.2"/>
<line x1="716.5" y1="1081" x2="716.5" y2="1085.5" stroke="#4A4A4A" stroke-width="1.2"/>
<line x1="766.5" y1="1090.3" x2="766.5" y2="1103" stroke="#4A4A4A" stroke-width="1.2"/>
<line x1="766.5" y1="1081" x2="766.5" y2="1085.5" stroke="#4A4A4A" stroke-width="1.2"/>
<line x1="817.5" y1="1081" x2="817.5" y2="1085.5" stroke="#4A4A4A" stroke-width="1.2"/>
<line x1="867.5" y1="1081" x2="867.5" y2="1085.5" stroke="#4A4A4A" stroke-width="1.2"/>
<line x1="918.5" y1="1081" x2="918.5" y2="1085.5" stroke="#4A4A4A" stroke-width="1.2"/>
<line x1="968.5" y1="1090.3" x2="968.5" y2="1103" stroke="#4A4A4A" stroke-width="1.2"/>
<line x1="968.5" y1="1081" x2="968.5" y2="1085.5" stroke="#4A4A4A" stroke-width="1.2"/>
<text x="80.2" y="1101.3" text-anchor="middle" class="ax" textLength="28.5" lengthAdjust="spacingAndGlyphs">2020</text>
<text x="261.6" y="1101.3" text-anchor="middle" class="ax" textLength="28.5" lengthAdjust="spacingAndGlyphs">2021</text>
<text x="463.6" y="1101.3" text-anchor="middle" class="ax" textLength="28.5" lengthAdjust="spacingAndGlyphs">2022</text>
<text x="665.6" y="1101.3" text-anchor="middle" class="ax" textLength="28.5" lengthAdjust="spacingAndGlyphs">2023</text>
<text x="867.7" y="1101.3" text-anchor="middle" class="ax" textLength="28.5" lengthAdjust="spacingAndGlyphs">2024</text>
<text x="994.5" y="1101.3" text-anchor="middle" class="ax" textLength="28.5" lengthAdjust="spacingAndGlyphs">2025</text>
<path d="M1021.5 1076.0 L1029.5 1079.5 L1029.5 1079.8 L1021.5 1081.5 Z" fill="#4A4A4A"/>
<text x="1031.5" y="1080.0" class="ax" textLength="39.2" lengthAdjust="spacingAndGlyphs">-3.000</text>
<line x1="1021.5" y1="1056.5" x2="1025.5" y2="1056.5" stroke="#4A4A4A" stroke-width="1.2"/>
<path d="M1021.5 1031.0 L1029.5 1034.5 L1029.5 1034.8 L1021.5 1038.0 Z" fill="#4A4A4A"/>
<text x="1031.5" y="1039.4" class="ax" textLength="39.2" lengthAdjust="spacingAndGlyphs">-2.000</text>
<line x1="1021.5" y1="1011.5" x2="1025.5" y2="1011.5" stroke="#4A4A4A" stroke-width="1.2"/>
<path d="M1021.5 985.0 L1029.5 988.5 L1029.5 988.8 L1021.5 992.0 Z" fill="#4A4A4A"/>
<text x="1031.5" y="993.4" class="ax" textLength="39.2" lengthAdjust="spacingAndGlyphs">-1.000</text>
<line x1="1021.5" y1="966.5" x2="1025.5" y2="966.5" stroke="#4A4A4A" stroke-width="1.2"/>
<path d="M1021.5 940.0 L1029.5 943.5 L1029.5 943.8 L1021.5 947.0 Z" fill="#4A4A4A"/>
<text x="1031.5" y="948.4" class="ax" textLength="33" lengthAdjust="spacingAndGlyphs">0.000</text>
<line x1="1021.5" y1="920.5" x2="1025.5" y2="920.5" stroke="#4A4A4A" stroke-width="1.2"/>
<path d="M1021.5 895.0 L1029.5 898.5 L1029.5 898.8 L1021.5 902.0 Z" fill="#4A4A4A"/>
<text x="1031.5" y="903.4" class="ax" textLength="33" lengthAdjust="spacingAndGlyphs">1.000</text>
<line x1="1021.5" y1="875.5" x2="1025.5" y2="875.5" stroke="#4A4A4A" stroke-width="1.2"/>
<path d="M1021.5 849.0 L1029.5 852.5 L1029.5 852.8 L1021.5 856.0 Z" fill="#4A4A4A"/>
<text x="1031.5" y="857.4" class="ax" textLength="33" lengthAdjust="spacingAndGlyphs">2.000</text>
<line x1="1021.5" y1="830.5" x2="1025.5" y2="830.5" stroke="#4A4A4A" stroke-width="1.2"/>
<path d="M1021.5 804.0 L1029.5 807.5 L1029.5 807.8 L1021.5 811.0 Z" fill="#4A4A4A"/>
<text x="1031.5" y="812.4" class="ax" textLength="33" lengthAdjust="spacingAndGlyphs">3.000</text>
<line x1="1021.5" y1="784.5" x2="1025.5" y2="784.5" stroke="#4A4A4A" stroke-width="1.2"/>
<path d="M1021.5 759.0 L1029.5 762.5 L1029.5 762.8 L1021.5 766.0 Z" fill="#4A4A4A"/>
<text x="1031.5" y="767.4" class="ax" textLength="33" lengthAdjust="spacingAndGlyphs">4.000</text>
<line x1="1021.5" y1="739.5" x2="1025.5" y2="739.5" stroke="#4A4A4A" stroke-width="1.2"/>
<path d="M1021.5 714.0 L1029.5 717.5 L1029.5 717.8 L1021.5 721.0 Z" fill="#4A4A4A"/>
<text x="1031.5" y="722.4" class="ax" textLength="33" lengthAdjust="spacingAndGlyphs">5.000</text>
<line x1="1021.5" y1="694.5" x2="1025.5" y2="694.5" stroke="#4A4A4A" stroke-width="1.2"/>
<path d="M1021.5 668.0 L1029.5 671.5 L1029.5 671.8 L1021.5 675.0 Z" fill="#4A4A4A"/>
<text x="1031.5" y="676.4" class="ax" textLength="33" lengthAdjust="spacingAndGlyphs">6.000</text>
<line x1="1021.5" y1="649.5" x2="1025.5" y2="649.5" stroke="#4A4A4A" stroke-width="1.2"/>
<path d="M1021.5 623.0 L1029.5 626.5 L1029.5 626.8 L1021.5 630.0 Z" fill="#4A4A4A"/>
<text x="1031.5" y="631.4" class="ax" textLength="33" lengthAdjust="spacingAndGlyphs">7.000</text>
<path d="M1023.0 928.8 L1031.0 920.2 L1079.5 920.2 L1079.5 937.4 L1031.0 937.4 Z" fill="#FDAA40"/>
<text x="1031.0" y="933.7" class="tg" fill="#000" stroke="#000" stroke-width=".45" textLength="33" lengthAdjust="spacingAndGlyphs">0.323</text>
<path d="M1023.0 923.0 L1031.0 914.4 L1079.5 914.4 L1079.5 931.6 L1031.0 931.6 Z" fill="#4AB8E6"/>
<text x="1031.0" y="927.9" class="tg" fill="#000" stroke="#000" stroke-width=".45" textLength="33" lengthAdjust="spacingAndGlyphs">0.128</text>
<path d="M1023.0 901.2 L1031.0 892.6 L1079.5 892.6 L1079.5 909.8 L1031.0 909.8 Z" fill="#6CA83F"/>
<text x="1031.0" y="906.1" class="tg" fill="#000" stroke="#000" stroke-width=".45" textLength="33" lengthAdjust="spacingAndGlyphs">0.480</text>
<path d="M1023.0 893.0 L1031.0 884.4 L1079.5 884.4 L1079.5 901.6 L1031.0 901.6 Z" fill="#2342F2"/>
<text x="1031.0" y="897.9" class="tg" fill="#fff" textLength="33" lengthAdjust="spacingAndGlyphs">0.182</text>
<path d="M1023.0 862.6 L1031.0 854.0 L1079.5 854.0 L1079.5 871.2 L1031.0 871.2 Z" fill="#FA6049"/>
<text x="1031.0" y="867.5" class="tg" fill="#fff" textLength="33" lengthAdjust="spacingAndGlyphs">0.670</text>
<path d="M1023.0 776.6 L1031.0 768.0 L1079.5 768.0 L1079.5 785.2 L1031.0 785.2 Z" fill="#2874D9"/>
<text x="1031.0" y="781.5" class="tg" fill="#fff" textLength="33" lengthAdjust="spacingAndGlyphs">1.894</text>
<path d="M1023.0 761.2 L1031.0 752.6 L1079.5 752.6 L1079.5 769.8 L1031.0 769.8 Z" fill="#4EDB78"/>
<text x="1031.0" y="766.1" class="tg" fill="#000" stroke="#000" stroke-width=".45" textLength="33" lengthAdjust="spacingAndGlyphs">0.339</text>
<path d="M1023.0 761.1 L1031.0 751.1 L1081.5 751.1 L1081.5 771.1 L1031.0 771.1 Z" fill="#000"/>
<text x="1031.0" y="766.0" class="tg" fill="#fff" textLength="33" lengthAdjust="spacingAndGlyphs">4.017</text>
<text transform="translate(1089,845) rotate(90)" text-anchor="middle" class="yl">Percent/Percentage Point</text>
</g>
<rect x="0" y="0" width="1112" height="57" fill="#B3B3B3"/>
<rect x="9.0" y="6.5" width="11.5" height="11" fill="#000"/>
<text x="26" y="17.1" class="lg" textLength="87.2" lengthAdjust="spacingAndGlyphs">Supercore CPI</text>
<text x="189.5" y="17.1" class="lv" text-anchor="end">0.757</text>
<rect x="201.0" y="6.5" width="11.5" height="11" fill="#B4138E"/>
<text x="218" y="17.1" class="lg" textLength="88.7" lengthAdjust="spacingAndGlyphs">Supercore PCE</text>
<text x="522" y="17.1" class="lv" text-anchor="end">0.000</text>
<rect x="536.0" y="7.6" width="9" height="9.6" fill="#FDAA40"/>
<text x="551" y="17.1" class="lg" textLength="239.7" lengthAdjust="spacingAndGlyphs">Education And Communication Services</text>
<text x="831.5" y="17.1" class="lv" text-anchor="end">0.062</text>
<rect x="846.0" y="7.6" width="9" height="9.6" fill="#4AB8E6"/>
<text x="862" y="17.1" class="lg" textLength="147.6" lengthAdjust="spacingAndGlyphs">Other Personal Services</text>
<text x="1056.5" y="17.1" class="lv" text-anchor="end">-0.030</text>
<rect x="10.0" y="23.6" width="9" height="9.6" fill="#6CA83F"/>
<text x="26" y="33.1" class="lg" textLength="122.1" lengthAdjust="spacingAndGlyphs">Recreation Services</text>
<text x="189.5" y="33.1" class="lv" text-anchor="end">0.175</text>
<rect x="202.0" y="23.6" width="9" height="9.6" fill="#2342F2"/>
<text x="218" y="33.1" class="lg" textLength="263" lengthAdjust="spacingAndGlyphs">Water Sewer And Trash Collection Services</text>
<text x="522" y="33.1" class="lv" text-anchor="end">0.026</text>
<rect x="536.0" y="23.6" width="9" height="9.6" fill="#FA6049"/>
<text x="551" y="33.1" class="lg" textLength="135" lengthAdjust="spacingAndGlyphs">Medical Care Services</text>
<text x="831.5" y="33.1" class="lv" text-anchor="end">0.006</text>
<rect x="846.0" y="23.6" width="9" height="9.6" fill="#2874D9"/>
<text x="862" y="33.1" class="lg" textLength="145.6" lengthAdjust="spacingAndGlyphs">Transportation Services</text>
<text x="1056.5" y="33.1" class="lv" text-anchor="end">0.432</text>
<rect x="10.0" y="39.5" width="9" height="9.6" fill="#4EDB78"/>
<text x="26" y="49.0" class="lg" textLength="38.1" lengthAdjust="spacingAndGlyphs">OTHER</text>
<text x="189.5" y="49.0" class="lv" text-anchor="end">0.087</text>
<rect x="0" y="551.5" width="1112" height="58" fill="#B3B3B3"/>
<rect x="9.0" y="558.0" width="11.5" height="11" fill="#000"/>
<text x="26" y="568.6" class="lg" textLength="87.2" lengthAdjust="spacingAndGlyphs">Supercore CPI</text>
<text x="189.5" y="568.6" class="lv" text-anchor="end">4.017</text>
<rect x="201.0" y="558.0" width="11.5" height="11" fill="#B4138E"/>
<text x="218" y="568.6" class="lg" textLength="88.7" lengthAdjust="spacingAndGlyphs">Supercore PCE</text>
<text x="522" y="568.6" class="lv" text-anchor="end">0.000</text>
<rect x="536.0" y="559.1" width="9" height="9.6" fill="#FDAA40"/>
<text x="551" y="568.6" class="lg" textLength="239.7" lengthAdjust="spacingAndGlyphs">Education And Communication Services</text>
<text x="831.5" y="568.6" class="lv" text-anchor="end">0.323</text>
<rect x="846.0" y="559.1" width="9" height="9.6" fill="#4AB8E6"/>
<text x="862" y="568.6" class="lg" textLength="147.6" lengthAdjust="spacingAndGlyphs">Other Personal Services</text>
<text x="1056.5" y="568.6" class="lv" text-anchor="end">0.128</text>
<rect x="10.0" y="575.1" width="9" height="9.6" fill="#6CA83F"/>
<text x="26" y="584.6" class="lg" textLength="122.1" lengthAdjust="spacingAndGlyphs">Recreation Services</text>
<text x="189.5" y="584.6" class="lv" text-anchor="end">0.480</text>
<rect x="202.0" y="575.1" width="9" height="9.6" fill="#2342F2"/>
<text x="218" y="584.6" class="lg" textLength="263" lengthAdjust="spacingAndGlyphs">Water Sewer And Trash Collection Services</text>
<text x="522" y="584.6" class="lv" text-anchor="end">0.182</text>
<rect x="536.0" y="575.1" width="9" height="9.6" fill="#FA6049"/>
<text x="551" y="584.6" class="lg" textLength="135" lengthAdjust="spacingAndGlyphs">Medical Care Services</text>
<text x="831.5" y="584.6" class="lv" text-anchor="end">0.670</text>
<rect x="846.0" y="575.1" width="9" height="9.6" fill="#2874D9"/>
<text x="862" y="584.6" class="lg" textLength="145.6" lengthAdjust="spacingAndGlyphs">Transportation Services</text>
<text x="1056.5" y="584.6" class="lv" text-anchor="end">1.894</text>
<rect x="10.0" y="591.0" width="9" height="9.6" fill="#4EDB78"/>
<text x="26" y="600.5" class="lg" textLength="38.1" lengthAdjust="spacingAndGlyphs">OTHER</text>
<text x="189.5" y="600.5" class="lv" text-anchor="end">0.339</text>
</svg>
<div class="title" id="t1" style="left:100px;top:58.7px">CPI Supercore MoM</div>
<div class="title" id="t2" style="left:88.3px;top:616.4px">CPI Supercore YoY</div>
</body></html>
